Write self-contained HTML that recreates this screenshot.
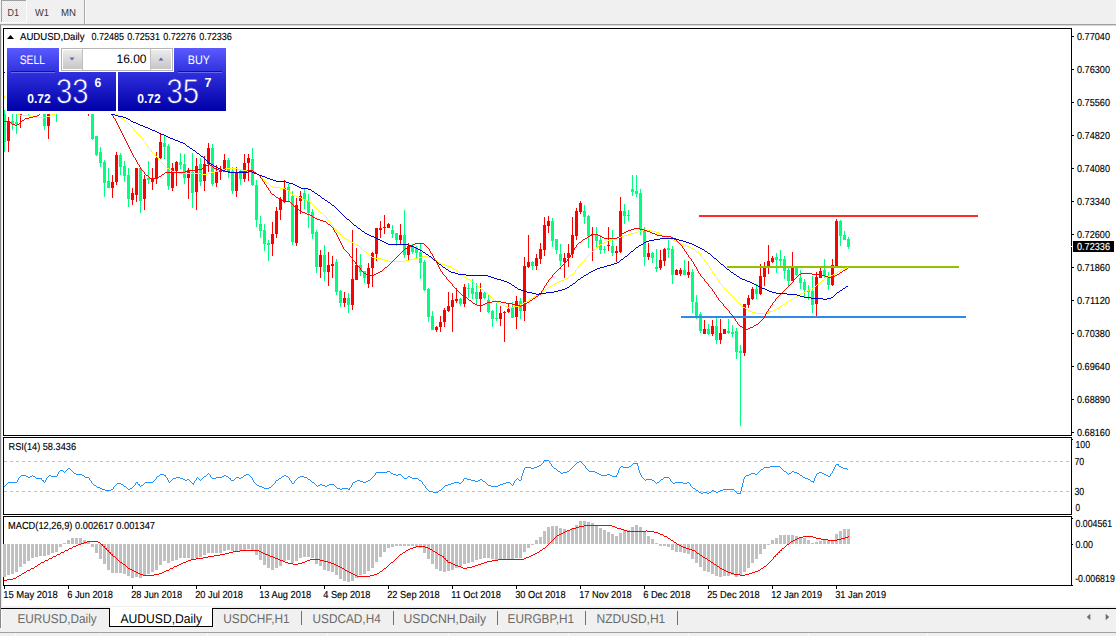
<!DOCTYPE html><html><head><meta charset="utf-8"><title>AUDUSD,Daily</title>
<style>html,body{margin:0;padding:0;background:#fff;overflow:hidden}svg{display:block}text{font-family:"Liberation Sans",sans-serif;text-rendering:geometricPrecision}</style></head><body>
<svg width="1116" height="636" viewBox="0 0 1116 636">
<defs><linearGradient id="bg" gradientUnits="userSpaceOnUse" x1="0" y1="48" x2="0" y2="111"><stop offset="0" stop-color="#5a5aff"/><stop offset="0.45" stop-color="#2a2ad8"/><stop offset="1" stop-color="#0000a8"/></linearGradient><linearGradient id="sp2" gradientUnits="userSpaceOnUse" x1="0" y1="50" x2="0" y2="69"><stop offset="0" stop-color="#ececec"/><stop offset="1" stop-color="#c6c6c6"/></linearGradient>
<linearGradient id="sp" x1="0" y1="0" x2="0" y2="1"><stop offset="0" stop-color="#f0f0f0"/><stop offset="0.5" stop-color="#dcdcdc"/><stop offset="1" stop-color="#c8c8c8"/></linearGradient>
<pattern id="dots" width="2" height="2" patternUnits="userSpaceOnUse"><rect width="2" height="2" fill="#f8f8f8"/><rect width="1" height="1" fill="#e6e6e6"/><rect x="1" y="1" width="1" height="1" fill="#e6e6e6"/></pattern>
<clipPath id="cm"><rect x="4" y="29" width="1067" height="406"/></clipPath></defs>
<rect width="1116" height="636" fill="#fff"/>
<g shape-rendering="crispEdges">
<rect x="0" y="0" width="1116" height="24" fill="#f0f0f0"/>
<rect x="0" y="24" width="1116" height="1" fill="#a0a0a0"/>
<rect x="0" y="25" width="1116" height="1" fill="#d8d8d8"/>
<rect x="1" y="0" width="25" height="22" fill="url(#dots)"/>
<rect x="1" y="0" width="1" height="22" fill="#a0a0a0"/><rect x="1" y="0" width="25" height="1" fill="#a0a0a0"/><rect x="26" y="0" width="1" height="23" fill="#fbfbfb"/><rect x="1" y="22" width="26" height="1" fill="#fbfbfb"/>
<rect x="84" y="0" width="1" height="24" fill="#a8a8a8"/><rect x="85" y="0" width="1" height="24" fill="#fafafa"/>
<rect x="0" y="25" width="1" height="581" fill="#888"/>
<rect x="1" y="25" width="1" height="581" fill="#e8e8e8"/>
</g>
<text x="7.5" y="15.7" font-size="10.17" fill="#383838" text-anchor="start" textLength="11.5" lengthAdjust="spacingAndGlyphs">D1</text>
<text x="35" y="15.7" font-size="10.17" fill="#383838" text-anchor="start" textLength="14" lengthAdjust="spacingAndGlyphs">W1</text>
<text x="61" y="15.7" font-size="10.17" fill="#383838" text-anchor="start" textLength="15" lengthAdjust="spacingAndGlyphs">MN</text>
<g clip-path="url(#cm)" shape-rendering="crispEdges">
<rect x="4" y="110" width="1" height="42" fill="#00ff7f"/>
<rect x="3" y="110" width="3" height="32" fill="#00ff7f"/>
<rect x="8" y="117" width="1" height="35" fill="#ff0000"/>
<rect x="7" y="121" width="3" height="20" fill="#ff0000"/>
<rect x="12" y="100" width="1" height="30" fill="#00ff7f"/>
<rect x="11" y="121" width="3" height="3" fill="#00ff7f"/>
<rect x="16" y="100" width="1" height="34" fill="#00ff7f"/>
<rect x="15" y="122" width="3" height="2" fill="#00ff7f"/>
<rect x="20" y="100" width="1" height="28" fill="#ff0000"/>
<rect x="19" y="113" width="3" height="2" fill="#ff0000"/>
<rect x="28" y="100" width="1" height="16" fill="#00ff7f"/>
<rect x="27" y="100" width="3" height="1" fill="#00ff7f"/>
<rect x="44" y="100" width="1" height="30" fill="#00ff7f"/>
<rect x="43" y="100" width="3" height="26" fill="#00ff7f"/>
<rect x="48" y="100" width="1" height="39" fill="#ff0000"/>
<rect x="47" y="100" width="3" height="26" fill="#ff0000"/>
<rect x="56" y="100" width="1" height="22" fill="#00ff7f"/>
<rect x="55" y="100" width="3" height="1" fill="#00ff7f"/>
<rect x="88" y="100" width="1" height="16" fill="#ff0000"/>
<rect x="87" y="100" width="3" height="1" fill="#ff0000"/>
<rect x="92" y="100" width="1" height="40" fill="#00ff7f"/>
<rect x="91" y="100" width="3" height="39" fill="#00ff7f"/>
<rect x="96" y="136" width="1" height="20" fill="#00ff7f"/>
<rect x="95" y="136" width="3" height="19" fill="#00ff7f"/>
<rect x="100" y="147" width="1" height="20" fill="#00ff7f"/>
<rect x="99" y="152" width="3" height="11" fill="#00ff7f"/>
<rect x="104" y="160" width="1" height="37" fill="#00ff7f"/>
<rect x="103" y="162" width="3" height="21" fill="#00ff7f"/>
<rect x="108" y="168" width="1" height="20" fill="#00ff7f"/>
<rect x="107" y="181" width="3" height="7" fill="#00ff7f"/>
<rect x="112" y="175" width="1" height="23" fill="#ff0000"/>
<rect x="111" y="182" width="3" height="6" fill="#ff0000"/>
<rect x="116" y="152" width="1" height="33" fill="#ff0000"/>
<rect x="115" y="155" width="3" height="27" fill="#ff0000"/>
<rect x="120" y="153" width="1" height="22" fill="#00ff7f"/>
<rect x="119" y="155" width="3" height="12" fill="#00ff7f"/>
<rect x="124" y="161" width="1" height="21" fill="#00ff7f"/>
<rect x="123" y="166" width="3" height="10" fill="#00ff7f"/>
<rect x="128" y="168" width="1" height="39" fill="#00ff7f"/>
<rect x="127" y="175" width="3" height="24" fill="#00ff7f"/>
<rect x="132" y="188" width="1" height="17" fill="#ff0000"/>
<rect x="131" y="193" width="3" height="7" fill="#ff0000"/>
<rect x="136" y="168" width="1" height="34" fill="#ff0000"/>
<rect x="135" y="168" width="3" height="27" fill="#ff0000"/>
<rect x="140" y="167" width="1" height="46" fill="#00ff7f"/>
<rect x="139" y="168" width="3" height="33" fill="#00ff7f"/>
<rect x="144" y="175" width="1" height="35" fill="#ff0000"/>
<rect x="143" y="179" width="3" height="20" fill="#ff0000"/>
<rect x="148" y="161" width="1" height="23" fill="#00ff7f"/>
<rect x="147" y="178" width="3" height="2" fill="#00ff7f"/>
<rect x="152" y="168" width="1" height="22" fill="#ff0000"/>
<rect x="151" y="178" width="3" height="4" fill="#ff0000"/>
<rect x="156" y="152" width="1" height="32" fill="#ff0000"/>
<rect x="155" y="158" width="3" height="21" fill="#ff0000"/>
<rect x="160" y="134" width="1" height="25" fill="#ff0000"/>
<rect x="159" y="142" width="3" height="16" fill="#ff0000"/>
<rect x="164" y="135" width="1" height="24" fill="#00ff7f"/>
<rect x="163" y="143" width="3" height="4" fill="#00ff7f"/>
<rect x="168" y="144" width="1" height="46" fill="#00ff7f"/>
<rect x="167" y="146" width="3" height="40" fill="#00ff7f"/>
<rect x="172" y="163" width="1" height="28" fill="#ff0000"/>
<rect x="171" y="168" width="3" height="20" fill="#ff0000"/>
<rect x="176" y="161" width="1" height="25" fill="#ff0000"/>
<rect x="175" y="162" width="3" height="9" fill="#ff0000"/>
<rect x="180" y="153" width="1" height="16" fill="#00ff7f"/>
<rect x="179" y="162" width="3" height="3" fill="#00ff7f"/>
<rect x="184" y="154" width="1" height="30" fill="#00ff7f"/>
<rect x="183" y="164" width="3" height="14" fill="#00ff7f"/>
<rect x="188" y="168" width="1" height="31" fill="#ff0000"/>
<rect x="187" y="170" width="3" height="8" fill="#ff0000"/>
<rect x="192" y="153" width="1" height="55" fill="#00ff7f"/>
<rect x="191" y="172" width="3" height="21" fill="#00ff7f"/>
<rect x="196" y="158" width="1" height="52" fill="#ff0000"/>
<rect x="195" y="166" width="3" height="26" fill="#ff0000"/>
<rect x="200" y="158" width="1" height="28" fill="#00ff7f"/>
<rect x="199" y="164" width="3" height="18" fill="#00ff7f"/>
<rect x="204" y="156" width="1" height="35" fill="#ff0000"/>
<rect x="203" y="164" width="3" height="17" fill="#ff0000"/>
<rect x="208" y="143" width="1" height="29" fill="#ff0000"/>
<rect x="207" y="148" width="3" height="16" fill="#ff0000"/>
<rect x="212" y="144" width="1" height="42" fill="#00ff7f"/>
<rect x="211" y="148" width="3" height="36" fill="#00ff7f"/>
<rect x="216" y="165" width="1" height="22" fill="#ff0000"/>
<rect x="215" y="171" width="3" height="12" fill="#ff0000"/>
<rect x="220" y="166" width="1" height="14" fill="#ff0000"/>
<rect x="219" y="171" width="3" height="1" fill="#ff0000"/>
<rect x="224" y="154" width="1" height="18" fill="#ff0000"/>
<rect x="223" y="160" width="3" height="10" fill="#ff0000"/>
<rect x="228" y="158" width="1" height="20" fill="#00ff7f"/>
<rect x="227" y="160" width="3" height="12" fill="#00ff7f"/>
<rect x="232" y="167" width="1" height="27" fill="#00ff7f"/>
<rect x="231" y="171" width="3" height="20" fill="#00ff7f"/>
<rect x="236" y="167" width="1" height="30" fill="#ff0000"/>
<rect x="235" y="172" width="3" height="19" fill="#ff0000"/>
<rect x="240" y="170" width="1" height="15" fill="#00ff7f"/>
<rect x="239" y="173" width="3" height="6" fill="#00ff7f"/>
<rect x="244" y="154" width="1" height="28" fill="#ff0000"/>
<rect x="243" y="163" width="3" height="16" fill="#ff0000"/>
<rect x="248" y="154" width="1" height="27" fill="#ff0000"/>
<rect x="247" y="158" width="3" height="5" fill="#ff0000"/>
<rect x="252" y="148" width="1" height="38" fill="#00ff7f"/>
<rect x="251" y="159" width="3" height="26" fill="#00ff7f"/>
<rect x="256" y="180" width="1" height="47" fill="#00ff7f"/>
<rect x="255" y="185" width="3" height="35" fill="#00ff7f"/>
<rect x="260" y="216" width="1" height="22" fill="#00ff7f"/>
<rect x="259" y="224" width="3" height="7" fill="#00ff7f"/>
<rect x="264" y="224" width="1" height="27" fill="#00ff7f"/>
<rect x="263" y="230" width="3" height="14" fill="#00ff7f"/>
<rect x="268" y="240" width="1" height="21" fill="#00ff7f"/>
<rect x="267" y="243" width="3" height="2" fill="#00ff7f"/>
<rect x="272" y="222" width="1" height="34" fill="#ff0000"/>
<rect x="271" y="234" width="3" height="10" fill="#ff0000"/>
<rect x="276" y="207" width="1" height="31" fill="#ff0000"/>
<rect x="275" y="211" width="3" height="23" fill="#ff0000"/>
<rect x="280" y="197" width="1" height="23" fill="#ff0000"/>
<rect x="279" y="199" width="3" height="11" fill="#ff0000"/>
<rect x="284" y="180" width="1" height="23" fill="#ff0000"/>
<rect x="283" y="188" width="3" height="13" fill="#ff0000"/>
<rect x="288" y="184" width="1" height="17" fill="#00ff7f"/>
<rect x="287" y="187" width="3" height="4" fill="#00ff7f"/>
<rect x="292" y="191" width="1" height="54" fill="#00ff7f"/>
<rect x="291" y="196" width="3" height="46" fill="#00ff7f"/>
<rect x="296" y="198" width="1" height="48" fill="#ff0000"/>
<rect x="295" y="205" width="3" height="38" fill="#ff0000"/>
<rect x="300" y="191" width="1" height="23" fill="#ff0000"/>
<rect x="299" y="196" width="3" height="5" fill="#ff0000"/>
<rect x="304" y="189" width="1" height="20" fill="#00ff7f"/>
<rect x="303" y="193" width="3" height="7" fill="#00ff7f"/>
<rect x="308" y="194" width="1" height="34" fill="#00ff7f"/>
<rect x="307" y="201" width="3" height="12" fill="#00ff7f"/>
<rect x="312" y="209" width="1" height="30" fill="#00ff7f"/>
<rect x="311" y="212" width="3" height="22" fill="#00ff7f"/>
<rect x="316" y="230" width="1" height="43" fill="#00ff7f"/>
<rect x="315" y="232" width="3" height="35" fill="#00ff7f"/>
<rect x="320" y="250" width="1" height="28" fill="#ff0000"/>
<rect x="319" y="255" width="3" height="12" fill="#ff0000"/>
<rect x="324" y="245" width="1" height="36" fill="#00ff7f"/>
<rect x="323" y="255" width="3" height="17" fill="#00ff7f"/>
<rect x="328" y="252" width="1" height="34" fill="#ff0000"/>
<rect x="327" y="265" width="3" height="7" fill="#ff0000"/>
<rect x="332" y="256" width="1" height="22" fill="#ff0000"/>
<rect x="331" y="264" width="3" height="2" fill="#ff0000"/>
<rect x="336" y="259" width="1" height="36" fill="#00ff7f"/>
<rect x="335" y="262" width="3" height="30" fill="#00ff7f"/>
<rect x="340" y="290" width="1" height="17" fill="#00ff7f"/>
<rect x="339" y="291" width="3" height="12" fill="#00ff7f"/>
<rect x="344" y="292" width="1" height="15" fill="#ff0000"/>
<rect x="343" y="298" width="3" height="5" fill="#ff0000"/>
<rect x="348" y="293" width="1" height="20" fill="#00ff7f"/>
<rect x="347" y="298" width="3" height="7" fill="#00ff7f"/>
<rect x="352" y="230" width="1" height="80" fill="#ff0000"/>
<rect x="351" y="279" width="3" height="26" fill="#ff0000"/>
<rect x="356" y="248" width="1" height="32" fill="#ff0000"/>
<rect x="355" y="265" width="3" height="15" fill="#ff0000"/>
<rect x="360" y="254" width="1" height="22" fill="#00ff7f"/>
<rect x="359" y="265" width="3" height="7" fill="#00ff7f"/>
<rect x="364" y="271" width="1" height="12" fill="#00ff7f"/>
<rect x="363" y="271" width="3" height="7" fill="#00ff7f"/>
<rect x="368" y="263" width="1" height="25" fill="#ff0000"/>
<rect x="367" y="268" width="3" height="16" fill="#ff0000"/>
<rect x="372" y="252" width="1" height="35" fill="#ff0000"/>
<rect x="371" y="253" width="3" height="15" fill="#ff0000"/>
<rect x="376" y="228" width="1" height="33" fill="#ff0000"/>
<rect x="375" y="228" width="3" height="26" fill="#ff0000"/>
<rect x="380" y="221" width="1" height="17" fill="#ff0000"/>
<rect x="379" y="228" width="3" height="2" fill="#ff0000"/>
<rect x="384" y="215" width="1" height="19" fill="#ff0000"/>
<rect x="383" y="227" width="3" height="1" fill="#ff0000"/>
<rect x="388" y="223" width="1" height="5" fill="#ff0000"/>
<rect x="387" y="224" width="3" height="4" fill="#ff0000"/>
<rect x="392" y="225" width="1" height="13" fill="#00ff7f"/>
<rect x="391" y="230" width="3" height="4" fill="#00ff7f"/>
<rect x="396" y="233" width="1" height="13" fill="#00ff7f"/>
<rect x="395" y="233" width="3" height="7" fill="#00ff7f"/>
<rect x="400" y="224" width="1" height="20" fill="#ff0000"/>
<rect x="399" y="235" width="3" height="5" fill="#ff0000"/>
<rect x="404" y="210" width="1" height="48" fill="#00ff7f"/>
<rect x="403" y="235" width="3" height="20" fill="#00ff7f"/>
<rect x="408" y="243" width="1" height="18" fill="#ff0000"/>
<rect x="407" y="246" width="3" height="9" fill="#ff0000"/>
<rect x="412" y="244" width="1" height="10" fill="#00ff7f"/>
<rect x="411" y="247" width="3" height="5" fill="#00ff7f"/>
<rect x="416" y="246" width="1" height="12" fill="#00ff7f"/>
<rect x="415" y="248" width="3" height="5" fill="#00ff7f"/>
<rect x="420" y="244" width="1" height="35" fill="#00ff7f"/>
<rect x="419" y="252" width="3" height="11" fill="#00ff7f"/>
<rect x="424" y="260" width="1" height="31" fill="#00ff7f"/>
<rect x="423" y="262" width="3" height="28" fill="#00ff7f"/>
<rect x="428" y="288" width="1" height="34" fill="#00ff7f"/>
<rect x="427" y="289" width="3" height="28" fill="#00ff7f"/>
<rect x="432" y="311" width="1" height="19" fill="#00ff7f"/>
<rect x="431" y="316" width="3" height="14" fill="#00ff7f"/>
<rect x="436" y="326" width="1" height="6" fill="#ff0000"/>
<rect x="435" y="327" width="3" height="3" fill="#ff0000"/>
<rect x="440" y="316" width="1" height="16" fill="#ff0000"/>
<rect x="439" y="322" width="3" height="5" fill="#ff0000"/>
<rect x="444" y="308" width="1" height="19" fill="#ff0000"/>
<rect x="443" y="310" width="3" height="12" fill="#ff0000"/>
<rect x="448" y="292" width="1" height="20" fill="#ff0000"/>
<rect x="447" y="306" width="3" height="5" fill="#ff0000"/>
<rect x="452" y="293" width="1" height="39" fill="#ff0000"/>
<rect x="451" y="300" width="3" height="7" fill="#ff0000"/>
<rect x="456" y="288" width="1" height="15" fill="#ff0000"/>
<rect x="455" y="299" width="3" height="2" fill="#ff0000"/>
<rect x="460" y="298" width="1" height="8" fill="#00ff7f"/>
<rect x="459" y="299" width="3" height="5" fill="#00ff7f"/>
<rect x="464" y="284" width="1" height="23" fill="#ff0000"/>
<rect x="463" y="287" width="3" height="17" fill="#ff0000"/>
<rect x="468" y="283" width="1" height="15" fill="#00ff7f"/>
<rect x="467" y="288" width="3" height="1" fill="#00ff7f"/>
<rect x="472" y="279" width="1" height="20" fill="#00ff7f"/>
<rect x="471" y="288" width="3" height="6" fill="#00ff7f"/>
<rect x="476" y="283" width="1" height="22" fill="#00ff7f"/>
<rect x="475" y="292" width="3" height="7" fill="#00ff7f"/>
<rect x="480" y="283" width="1" height="29" fill="#ff0000"/>
<rect x="479" y="292" width="3" height="7" fill="#ff0000"/>
<rect x="484" y="292" width="1" height="7" fill="#00ff7f"/>
<rect x="483" y="293" width="3" height="5" fill="#00ff7f"/>
<rect x="488" y="295" width="1" height="18" fill="#00ff7f"/>
<rect x="487" y="300" width="3" height="12" fill="#00ff7f"/>
<rect x="492" y="310" width="1" height="17" fill="#00ff7f"/>
<rect x="491" y="311" width="3" height="8" fill="#00ff7f"/>
<rect x="496" y="303" width="1" height="18" fill="#00ff7f"/>
<rect x="495" y="318" width="3" height="1" fill="#00ff7f"/>
<rect x="500" y="306" width="1" height="20" fill="#ff0000"/>
<rect x="499" y="313" width="3" height="6" fill="#ff0000"/>
<rect x="504" y="311" width="1" height="31" fill="#ff0000"/>
<rect x="503" y="312" width="3" height="1" fill="#ff0000"/>
<rect x="508" y="303" width="1" height="10" fill="#ff0000"/>
<rect x="507" y="309" width="3" height="3" fill="#ff0000"/>
<rect x="512" y="302" width="1" height="16" fill="#00ff7f"/>
<rect x="511" y="307" width="3" height="11" fill="#00ff7f"/>
<rect x="516" y="296" width="1" height="33" fill="#ff0000"/>
<rect x="515" y="301" width="3" height="16" fill="#ff0000"/>
<rect x="520" y="298" width="1" height="21" fill="#00ff7f"/>
<rect x="519" y="301" width="3" height="10" fill="#00ff7f"/>
<rect x="524" y="257" width="1" height="64" fill="#ff0000"/>
<rect x="523" y="266" width="3" height="45" fill="#ff0000"/>
<rect x="528" y="235" width="1" height="33" fill="#ff0000"/>
<rect x="527" y="262" width="3" height="5" fill="#ff0000"/>
<rect x="532" y="261" width="1" height="9" fill="#00ff7f"/>
<rect x="531" y="262" width="3" height="4" fill="#00ff7f"/>
<rect x="536" y="254" width="1" height="16" fill="#ff0000"/>
<rect x="535" y="258" width="3" height="8" fill="#ff0000"/>
<rect x="540" y="243" width="1" height="21" fill="#ff0000"/>
<rect x="539" y="249" width="3" height="10" fill="#ff0000"/>
<rect x="544" y="217" width="1" height="39" fill="#ff0000"/>
<rect x="543" y="225" width="3" height="25" fill="#ff0000"/>
<rect x="548" y="216" width="1" height="17" fill="#ff0000"/>
<rect x="547" y="221" width="3" height="5" fill="#ff0000"/>
<rect x="552" y="218" width="1" height="29" fill="#00ff7f"/>
<rect x="551" y="221" width="3" height="20" fill="#00ff7f"/>
<rect x="556" y="239" width="1" height="15" fill="#00ff7f"/>
<rect x="555" y="239" width="3" height="11" fill="#00ff7f"/>
<rect x="560" y="244" width="1" height="22" fill="#00ff7f"/>
<rect x="559" y="254" width="3" height="7" fill="#00ff7f"/>
<rect x="564" y="253" width="1" height="25" fill="#ff0000"/>
<rect x="563" y="258" width="3" height="4" fill="#ff0000"/>
<rect x="568" y="244" width="1" height="23" fill="#ff0000"/>
<rect x="567" y="253" width="3" height="5" fill="#ff0000"/>
<rect x="572" y="217" width="1" height="41" fill="#ff0000"/>
<rect x="571" y="235" width="3" height="19" fill="#ff0000"/>
<rect x="576" y="208" width="1" height="32" fill="#ff0000"/>
<rect x="575" y="211" width="3" height="25" fill="#ff0000"/>
<rect x="580" y="201" width="1" height="13" fill="#ff0000"/>
<rect x="579" y="203" width="3" height="9" fill="#ff0000"/>
<rect x="584" y="205" width="1" height="19" fill="#00ff7f"/>
<rect x="583" y="211" width="3" height="6" fill="#00ff7f"/>
<rect x="588" y="215" width="1" height="33" fill="#00ff7f"/>
<rect x="587" y="216" width="3" height="20" fill="#00ff7f"/>
<rect x="592" y="227" width="1" height="34" fill="#ff0000"/>
<rect x="591" y="234" width="3" height="1" fill="#ff0000"/>
<rect x="596" y="227" width="1" height="20" fill="#00ff7f"/>
<rect x="595" y="234" width="3" height="7" fill="#00ff7f"/>
<rect x="600" y="235" width="1" height="19" fill="#00ff7f"/>
<rect x="599" y="240" width="3" height="10" fill="#00ff7f"/>
<rect x="604" y="246" width="1" height="7" fill="#00ff7f"/>
<rect x="603" y="249" width="3" height="1" fill="#00ff7f"/>
<rect x="608" y="227" width="1" height="24" fill="#ff0000"/>
<rect x="607" y="245" width="3" height="1" fill="#ff0000"/>
<rect x="612" y="230" width="1" height="26" fill="#00ff7f"/>
<rect x="611" y="246" width="3" height="7" fill="#00ff7f"/>
<rect x="616" y="246" width="1" height="16" fill="#ff0000"/>
<rect x="615" y="251" width="3" height="2" fill="#ff0000"/>
<rect x="620" y="197" width="1" height="56" fill="#ff0000"/>
<rect x="619" y="211" width="3" height="41" fill="#ff0000"/>
<rect x="624" y="204" width="1" height="20" fill="#00ff7f"/>
<rect x="623" y="211" width="3" height="5" fill="#00ff7f"/>
<rect x="628" y="210" width="1" height="11" fill="#00ff7f"/>
<rect x="627" y="215" width="3" height="1" fill="#00ff7f"/>
<rect x="632" y="175" width="1" height="21" fill="#00ff7f"/>
<rect x="631" y="189" width="3" height="3" fill="#00ff7f"/>
<rect x="636" y="175" width="1" height="22" fill="#00ff7f"/>
<rect x="635" y="191" width="3" height="3" fill="#00ff7f"/>
<rect x="640" y="189" width="1" height="46" fill="#00ff7f"/>
<rect x="639" y="193" width="3" height="37" fill="#00ff7f"/>
<rect x="644" y="227" width="1" height="39" fill="#00ff7f"/>
<rect x="643" y="231" width="3" height="26" fill="#00ff7f"/>
<rect x="648" y="243" width="1" height="17" fill="#ff0000"/>
<rect x="647" y="253" width="3" height="4" fill="#ff0000"/>
<rect x="652" y="252" width="1" height="11" fill="#00ff7f"/>
<rect x="651" y="253" width="3" height="5" fill="#00ff7f"/>
<rect x="656" y="249" width="1" height="23" fill="#00ff7f"/>
<rect x="655" y="267" width="3" height="2" fill="#00ff7f"/>
<rect x="660" y="250" width="1" height="20" fill="#ff0000"/>
<rect x="659" y="260" width="3" height="8" fill="#ff0000"/>
<rect x="664" y="248" width="1" height="18" fill="#ff0000"/>
<rect x="663" y="249" width="3" height="12" fill="#ff0000"/>
<rect x="668" y="240" width="1" height="18" fill="#00ff7f"/>
<rect x="667" y="248" width="3" height="2" fill="#00ff7f"/>
<rect x="672" y="246" width="1" height="38" fill="#00ff7f"/>
<rect x="671" y="249" width="3" height="26" fill="#00ff7f"/>
<rect x="676" y="269" width="1" height="6" fill="#ff0000"/>
<rect x="675" y="270" width="3" height="5" fill="#ff0000"/>
<rect x="680" y="268" width="1" height="8" fill="#ff0000"/>
<rect x="679" y="270" width="3" height="4" fill="#ff0000"/>
<rect x="684" y="260" width="1" height="15" fill="#00ff7f"/>
<rect x="683" y="270" width="3" height="5" fill="#00ff7f"/>
<rect x="688" y="261" width="1" height="17" fill="#ff0000"/>
<rect x="687" y="272" width="3" height="3" fill="#ff0000"/>
<rect x="692" y="269" width="1" height="44" fill="#00ff7f"/>
<rect x="691" y="272" width="3" height="30" fill="#00ff7f"/>
<rect x="696" y="295" width="1" height="24" fill="#00ff7f"/>
<rect x="695" y="302" width="3" height="14" fill="#00ff7f"/>
<rect x="700" y="312" width="1" height="21" fill="#00ff7f"/>
<rect x="699" y="314" width="3" height="17" fill="#00ff7f"/>
<rect x="704" y="320" width="1" height="14" fill="#ff0000"/>
<rect x="703" y="329" width="3" height="5" fill="#ff0000"/>
<rect x="708" y="324" width="1" height="11" fill="#00ff7f"/>
<rect x="707" y="329" width="3" height="5" fill="#00ff7f"/>
<rect x="712" y="320" width="1" height="16" fill="#ff0000"/>
<rect x="711" y="326" width="3" height="8" fill="#ff0000"/>
<rect x="716" y="318" width="1" height="26" fill="#00ff7f"/>
<rect x="715" y="326" width="3" height="14" fill="#00ff7f"/>
<rect x="720" y="319" width="1" height="25" fill="#ff0000"/>
<rect x="719" y="333" width="3" height="7" fill="#ff0000"/>
<rect x="724" y="329" width="1" height="5" fill="#ff0000"/>
<rect x="723" y="329" width="3" height="5" fill="#ff0000"/>
<rect x="728" y="319" width="1" height="15" fill="#00ff7f"/>
<rect x="727" y="331" width="3" height="2" fill="#00ff7f"/>
<rect x="732" y="325" width="1" height="12" fill="#00ff7f"/>
<rect x="731" y="332" width="3" height="2" fill="#00ff7f"/>
<rect x="736" y="328" width="1" height="31" fill="#00ff7f"/>
<rect x="735" y="331" width="3" height="21" fill="#00ff7f"/>
<rect x="740" y="345" width="1" height="81" fill="#00ff7f"/>
<rect x="739" y="351" width="3" height="2" fill="#00ff7f"/>
<rect x="744" y="304" width="1" height="52" fill="#ff0000"/>
<rect x="743" y="304" width="3" height="49" fill="#ff0000"/>
<rect x="748" y="295" width="1" height="13" fill="#ff0000"/>
<rect x="747" y="298" width="3" height="7" fill="#ff0000"/>
<rect x="752" y="287" width="1" height="13" fill="#ff0000"/>
<rect x="751" y="289" width="3" height="10" fill="#ff0000"/>
<rect x="756" y="284" width="1" height="15" fill="#00ff7f"/>
<rect x="755" y="289" width="3" height="5" fill="#00ff7f"/>
<rect x="760" y="264" width="1" height="31" fill="#ff0000"/>
<rect x="759" y="276" width="3" height="18" fill="#ff0000"/>
<rect x="764" y="262" width="1" height="24" fill="#ff0000"/>
<rect x="763" y="266" width="3" height="11" fill="#ff0000"/>
<rect x="768" y="245" width="1" height="29" fill="#ff0000"/>
<rect x="767" y="261" width="3" height="6" fill="#ff0000"/>
<rect x="772" y="256" width="1" height="7" fill="#ff0000"/>
<rect x="771" y="258" width="3" height="4" fill="#ff0000"/>
<rect x="776" y="253" width="1" height="20" fill="#00ff7f"/>
<rect x="775" y="257" width="3" height="3" fill="#00ff7f"/>
<rect x="780" y="250" width="1" height="16" fill="#00ff7f"/>
<rect x="779" y="259" width="3" height="2" fill="#00ff7f"/>
<rect x="784" y="256" width="1" height="23" fill="#00ff7f"/>
<rect x="783" y="259" width="3" height="12" fill="#00ff7f"/>
<rect x="788" y="268" width="1" height="18" fill="#00ff7f"/>
<rect x="787" y="270" width="3" height="11" fill="#00ff7f"/>
<rect x="792" y="252" width="1" height="29" fill="#ff0000"/>
<rect x="791" y="268" width="3" height="13" fill="#ff0000"/>
<rect x="796" y="267" width="1" height="9" fill="#00ff7f"/>
<rect x="795" y="268" width="3" height="7" fill="#00ff7f"/>
<rect x="800" y="270" width="1" height="19" fill="#00ff7f"/>
<rect x="799" y="278" width="3" height="5" fill="#00ff7f"/>
<rect x="804" y="279" width="1" height="18" fill="#00ff7f"/>
<rect x="803" y="282" width="3" height="8" fill="#00ff7f"/>
<rect x="808" y="285" width="1" height="15" fill="#00ff7f"/>
<rect x="807" y="290" width="3" height="2" fill="#00ff7f"/>
<rect x="812" y="276" width="1" height="37" fill="#00ff7f"/>
<rect x="811" y="291" width="3" height="14" fill="#00ff7f"/>
<rect x="816" y="272" width="1" height="44" fill="#ff0000"/>
<rect x="815" y="277" width="3" height="27" fill="#ff0000"/>
<rect x="820" y="268" width="1" height="10" fill="#ff0000"/>
<rect x="819" y="271" width="3" height="7" fill="#ff0000"/>
<rect x="824" y="259" width="1" height="19" fill="#00ff7f"/>
<rect x="823" y="270" width="3" height="6" fill="#00ff7f"/>
<rect x="828" y="272" width="1" height="18" fill="#00ff7f"/>
<rect x="827" y="277" width="3" height="8" fill="#00ff7f"/>
<rect x="832" y="259" width="1" height="27" fill="#ff0000"/>
<rect x="831" y="265" width="3" height="20" fill="#ff0000"/>
<rect x="836" y="219" width="1" height="47" fill="#ff0000"/>
<rect x="835" y="221" width="3" height="45" fill="#ff0000"/>
<rect x="840" y="220" width="1" height="26" fill="#00ff7f"/>
<rect x="839" y="221" width="3" height="15" fill="#00ff7f"/>
<rect x="844" y="231" width="1" height="9" fill="#00ff7f"/>
<rect x="843" y="235" width="3" height="5" fill="#00ff7f"/>
<rect x="848" y="237" width="1" height="12" fill="#00ff7f"/>
<rect x="847" y="239" width="3" height="8" fill="#00ff7f"/>
<rect x="699" y="215" width="279" height="2" fill="#ff2a2a"/>
<rect x="727" y="266" width="232" height="2" fill="#94c000"/>
<rect x="681" y="316" width="285" height="2" fill="#2e8ae6"/>
<path d="M4.5 96V98M5.5 98V99M6.5 99V100M7.5 100V102M8.5 102V103M9.5 103V104M10.5 104V105M11.5 105V107M12.5 107V108M13.5 108V109M14.5 109V110M15.5 110V112M16.5 112V113M17.5 113V114M18.5 114V115M19.5 114V115M20.5 115V116M21.5 115V116M22.5 115V116M23.5 115V116M24.5 115V116M25.5 115V116M26.5 115V116M27.5 115V116M28.5 115V116M29.5 115V116M30.5 116V117M31.5 116V117M32.5 116V117M33.5 116V117M34.5 116V117M35.5 116V117M36.5 116V117M37.5 116V117M38.5 117V118M39.5 117V118M40.5 117V118M41.5 117V118M42.5 117V118M43.5 117V118M44.5 117V118M45.5 117V118M46.5 117V118M47.5 116V117M48.5 116V117M49.5 116V117M50.5 115V116M51.5 115V116M52.5 114V115M53.5 114V115M54.5 114V115M55.5 113V114M56.5 113V114M57.5 112V113" fill="none" stroke="#ffff00" stroke-width="1"/>
<path d="M116.5 114V115M117.5 115V116M118.5 115V116M119.5 116V117M120.5 117V118M121.5 118V119M122.5 118V119M123.5 119V120M124.5 120V121M125.5 120V121M126.5 121V122M127.5 122V123M128.5 123V124M129.5 124V125M130.5 125V126M131.5 126V127M132.5 127V128M133.5 128V130M134.5 130V131M135.5 131V132M136.5 132V133M137.5 133V134M138.5 134V135M139.5 135V136M140.5 136V137M141.5 137V138M142.5 138V140M143.5 140V141M144.5 141V142M145.5 142V144M146.5 144V145M147.5 145V147M148.5 147V148M149.5 148V149M150.5 149V150M151.5 150V152M152.5 152V153M153.5 153V154M154.5 154V155M155.5 155V156M156.5 156V157M157.5 157V158M158.5 158V160M159.5 160V161M160.5 161V162M161.5 162V163M162.5 163V164M163.5 164V165M164.5 165V166M165.5 166V167M166.5 167V168M167.5 168V169M168.5 168V169M169.5 169V170M170.5 169V170M171.5 170V171M172.5 171V172M173.5 171V172M174.5 171V172M175.5 172V173M176.5 172V173M177.5 172V173M178.5 172V173M179.5 173V174M180.5 173V174M181.5 173V174M182.5 173V174M183.5 173V174M184.5 173V174M185.5 173V174M186.5 173V174M187.5 173V174M188.5 173V174M189.5 173V174M190.5 173V174M191.5 173V174M192.5 173V174M193.5 173V174M194.5 173V174M195.5 173V174M196.5 173V174M197.5 173V174M198.5 173V174M199.5 173V174M200.5 173V174M201.5 174V175M202.5 174V175M203.5 174V175M204.5 174V175M205.5 174V175M206.5 174V175M207.5 173V174M208.5 173V174M209.5 173V174M210.5 173V174M211.5 172V173M212.5 172V173M213.5 172V173M214.5 172V173M215.5 171V172M216.5 171V172M217.5 171V172M218.5 171V172M219.5 170V171M220.5 170V171M221.5 170V171M222.5 169V170M223.5 169V170M224.5 169V170M225.5 168V169M226.5 168V169M227.5 168V169M228.5 168V169M229.5 168V169M230.5 168V169M231.5 168V169M232.5 168V169M233.5 168V169M234.5 168V169M235.5 168V169M236.5 168V169M237.5 168V169M238.5 169V170M239.5 169V170M240.5 169V170M241.5 169V170M242.5 169V170M243.5 170V171M244.5 170V171M245.5 170V171M246.5 170V171M247.5 170V171M248.5 170V171M249.5 170V171M250.5 170V171M251.5 170V171M252.5 170V171M253.5 171V172M254.5 171V172M255.5 172V173M256.5 173V174M257.5 174V175M258.5 175V176M259.5 176V177M260.5 177V178M261.5 178V179M262.5 178V179M263.5 179V180M264.5 180V181M265.5 181V182M266.5 182V183M267.5 183V184M268.5 183V184M269.5 184V185M270.5 185V186M271.5 186V187M272.5 186V187M273.5 187V188M274.5 187V188M275.5 187V188M276.5 187V188M277.5 187V188M278.5 187V188M279.5 187V188M280.5 188V189M281.5 188V189M282.5 188V189M283.5 188V189M284.5 188V189M285.5 189V190M286.5 189V190M287.5 190V191M288.5 190V191M289.5 191V192M290.5 192V193M291.5 193V194M292.5 194V195M293.5 195V196M294.5 195V196M295.5 195V196M296.5 196V197M297.5 196V197M298.5 197V198M299.5 197V198M300.5 197V198M301.5 198V199M302.5 198V199M303.5 199V200M304.5 199V200M305.5 199V200M306.5 200V201M307.5 200V201M308.5 201V202M309.5 201V202M310.5 202V203M311.5 203V204M312.5 204V205M313.5 205V206M314.5 206V207M315.5 207V208M316.5 208V209M317.5 209V210M318.5 210V211M319.5 211V212M320.5 212V213M321.5 212V213M322.5 213V214M323.5 214V215M324.5 215V216M325.5 216V217M326.5 217V218M327.5 218V220M328.5 220V221M329.5 221V222M330.5 222V224M331.5 224V225M332.5 225V226M333.5 226V228M334.5 228V229M335.5 229V230M336.5 230V232M337.5 232V233M338.5 232V233M339.5 233V234M340.5 234V235M341.5 235V236M342.5 236V237M343.5 237V238M344.5 238V239M345.5 238V239M346.5 239V240M347.5 239V240M348.5 240V241M349.5 241V242M350.5 241V242M351.5 242V243M352.5 242V243M353.5 243V244M354.5 243V244M355.5 244V245M356.5 244V245M357.5 245V246M358.5 245V246M359.5 246V247M360.5 247V248M361.5 248V249M362.5 249V250M363.5 250V251M364.5 251V252M365.5 251V252M366.5 252V253M367.5 253V254M368.5 254V255M369.5 255V256M370.5 255V256M371.5 256V257M372.5 257V258M373.5 257V258M374.5 258V259M375.5 258V259M376.5 258V259M377.5 258V259M378.5 258V259M379.5 258V259M380.5 258V259M381.5 259V260M382.5 259V260M383.5 259V260M384.5 260V261M385.5 260V261M386.5 260V261M387.5 260V261M388.5 261V262M389.5 261V262M390.5 261V262M391.5 261V262M392.5 261V262M393.5 261V262M394.5 261V262M395.5 261V262M396.5 261V262M397.5 261V262M398.5 261V262M399.5 261V262M400.5 261V262M401.5 261V262M402.5 261V262M403.5 261V262M404.5 261V262M405.5 260V261M406.5 260V261M407.5 260V261M408.5 260V261M409.5 260V261M410.5 259V260M411.5 259V260M412.5 259V260M413.5 259V260M414.5 258V259M415.5 258V259M416.5 258V259M417.5 257V258M418.5 257V258M419.5 257V258M420.5 257V258M421.5 257V258M422.5 256V257M423.5 256V257M424.5 256V257M425.5 256V257M426.5 256V257M427.5 256V257M428.5 257V258M429.5 257V258M430.5 257V258M431.5 258V259M432.5 258V259M433.5 259V260M434.5 259V260M435.5 260V261M436.5 260V261M437.5 261V262M438.5 262V263M439.5 262V263M440.5 263V264M441.5 263V264M442.5 264V265M443.5 264V265M444.5 264V265M445.5 265V266M446.5 265V266M447.5 265V266M448.5 266V267M449.5 266V267M450.5 266V267M451.5 267V268M452.5 268V269M453.5 268V269M454.5 269V270M455.5 269V270M456.5 270V271M457.5 271V272M458.5 271V272M459.5 272V273M460.5 273V274M461.5 274V275M462.5 275V276M463.5 276V277M464.5 276V277M465.5 277V278M466.5 278V279M467.5 278V279M468.5 279V280M469.5 279V280M470.5 280V281M471.5 281V282M472.5 281V282M473.5 282V283M474.5 283V284M475.5 284V285M476.5 285V286M477.5 285V286M478.5 286V287M479.5 287V288M480.5 288V289M481.5 289V290M482.5 289V290M483.5 290V291M484.5 291V292M485.5 292V293M486.5 293V294M487.5 293V294M488.5 294V295M489.5 295V296M490.5 296V297M491.5 297V298M492.5 298V299M493.5 299V300M494.5 299V300M495.5 300V301M496.5 301V302M497.5 302V303M498.5 302V303M499.5 303V304M500.5 303V304M501.5 304V305M502.5 305V306M503.5 305V306M504.5 305V306M505.5 306V307M506.5 306V307M507.5 307V308M508.5 307V308M509.5 307V308M510.5 307V308M511.5 307V308M512.5 307V308M513.5 307V308M514.5 306V307M515.5 306V307M516.5 306V307M517.5 306V307M518.5 306V307M519.5 305V306M520.5 304V305M521.5 304V305M522.5 303V304M523.5 303V304M524.5 302V303M525.5 302V303M526.5 301V302M527.5 301V302M528.5 300V301M529.5 299V300M530.5 299V300M531.5 298V299M532.5 298V299M533.5 297V298M534.5 296V297M535.5 296V297M536.5 295V296M537.5 295V296M538.5 294V295M539.5 293V294M540.5 293V294M541.5 292V293M542.5 291V292M543.5 291V292M544.5 290V291M545.5 289V290M546.5 289V290M547.5 288V289M548.5 287V288M549.5 287V288M550.5 286V287M551.5 286V287M552.5 285V286M553.5 284V285M554.5 284V285M555.5 283V284M556.5 283V284M557.5 282V283M558.5 282V283M559.5 281V282M560.5 281V282M561.5 280V281M562.5 280V281M563.5 280V281M564.5 279V280M565.5 279V280M566.5 278V279M567.5 278V279M568.5 277V278M569.5 276V277M570.5 275V276M571.5 275V276M572.5 274V275M573.5 273V274M574.5 272V273M575.5 270V272M576.5 269V270M577.5 268V269M578.5 266V268M579.5 265V266M580.5 264V265M581.5 263V264M582.5 262V263M583.5 261V262M584.5 260V261M585.5 258V260M586.5 257V258M587.5 256V257M588.5 255V256M589.5 254V255M590.5 253V254M591.5 252V253M592.5 251V252M593.5 250V251M594.5 249V250M595.5 249V250M596.5 248V249M597.5 247V248M598.5 246V247M599.5 245V246M600.5 244V245M601.5 244V245M602.5 243V244M603.5 243V244M604.5 242V243M605.5 242V243M606.5 241V242M607.5 241V242M608.5 240V241M609.5 240V241M610.5 240V241M611.5 239V240M612.5 239V240M613.5 239V240M614.5 239V240M615.5 238V239M616.5 238V239M617.5 238V239M618.5 237V238M619.5 237V238M620.5 237V238M621.5 236V237M622.5 236V237M623.5 236V237M624.5 235V236M625.5 235V236M626.5 235V236M627.5 235V236M628.5 234V235M629.5 234V235M630.5 234V235M631.5 233V234M632.5 233V234M633.5 233V234M634.5 233V234M635.5 232V233M636.5 232V233M637.5 232V233M638.5 231V232M639.5 231V232M640.5 231V232M641.5 231V232M642.5 230V231M643.5 230V231M644.5 230V231M645.5 230V231M646.5 230V231M647.5 230V231M648.5 230V231M649.5 230V231M650.5 230V231M651.5 230V231M652.5 231V232M653.5 231V232M654.5 231V232M655.5 231V232M656.5 232V233M657.5 232V233M658.5 232V233M659.5 233V234M660.5 234V235M661.5 234V235M662.5 235V236M663.5 235V236M664.5 236V237M665.5 236V237M666.5 237V238M667.5 237V238M668.5 237V238M669.5 238V239M670.5 238V239M671.5 239V240M672.5 239V240M673.5 240V241M674.5 240V241M675.5 241V242M676.5 241V242M677.5 242V243M678.5 242V243M679.5 243V244M680.5 243V244M681.5 243V244M682.5 244V245M683.5 244V245M684.5 245V246M685.5 245V246M686.5 245V246M687.5 246V247M688.5 246V247M689.5 247V248M690.5 247V248M691.5 248V249M692.5 248V249M693.5 249V250M694.5 249V250M695.5 250V251M696.5 251V252M697.5 252V253M698.5 252V253M699.5 253V254M700.5 254V256M701.5 256V257M702.5 257V258M703.5 258V259M704.5 259V261M705.5 261V262M706.5 262V263M707.5 263V265M708.5 265V266M709.5 266V268M710.5 268V270M711.5 270V271M712.5 271V273M713.5 273V274M714.5 274V276M715.5 276V277M716.5 277V278M717.5 278V280M718.5 280V281M719.5 281V283M720.5 283V284M721.5 284V285M722.5 285V286M723.5 286V288M724.5 288V289M725.5 289V290M726.5 290V291M727.5 291V292M728.5 292V293M729.5 293V294M730.5 294V295M731.5 295V296M732.5 296V297M733.5 297V298M734.5 298V299M735.5 299V300M736.5 300V301M737.5 301V302M738.5 302V303M739.5 303V304M740.5 304V305M741.5 305V306M742.5 306V307M743.5 307V308M744.5 307V308M745.5 308V309M746.5 309V310M747.5 309V310M748.5 310V311M749.5 310V311M750.5 311V312M751.5 311V312M752.5 312V313M753.5 312V313M754.5 312V313M755.5 312V313M756.5 313V314M757.5 313V314M758.5 313V314M759.5 313V314M760.5 313V314M761.5 313V314M762.5 313V314M763.5 313V314M764.5 313V314M765.5 313V314M766.5 313V314M767.5 313V314M768.5 312V313M769.5 312V313M770.5 311V312M771.5 311V312M772.5 311V312M773.5 310V311M774.5 310V311M775.5 309V310M776.5 309V310M777.5 308V309M778.5 308V309M779.5 307V308M780.5 306V307M781.5 306V307M782.5 305V306M783.5 304V305M784.5 304V305M785.5 303V304M786.5 302V303M787.5 302V303M788.5 301V302M789.5 300V301M790.5 300V301M791.5 299V300M792.5 299V300M793.5 298V299M794.5 297V298M795.5 297V298M796.5 296V297M797.5 295V296M798.5 295V296M799.5 294V295M800.5 294V295M801.5 293V294M802.5 293V294M803.5 292V293M804.5 292V293M805.5 291V292M806.5 291V292M807.5 290V291M808.5 290V291M809.5 289V290M810.5 289V290M811.5 289V290M812.5 288V289M813.5 288V289M814.5 287V288M815.5 286V287M816.5 285V286M817.5 284V285M818.5 284V285M819.5 283V284M820.5 282V283M821.5 281V282M822.5 280V281M823.5 280V281M824.5 279V280M825.5 278V279M826.5 277V278M827.5 277V278M828.5 276V277M829.5 276V277M830.5 276V277M831.5 275V276M832.5 275V276M833.5 274V275M834.5 274V275M835.5 273V274M836.5 273V274M837.5 272V273M838.5 271V272M839.5 271V272M840.5 270V271M841.5 269V270M842.5 269V270M843.5 268V269M844.5 268V269M845.5 268V269M846.5 268V269M847.5 267V268" fill="none" stroke="#ffff00" stroke-width="1"/>
<path d="M4.5 121V122M5.5 121V122M6.5 121V122M7.5 121V122M8.5 121V122M9.5 121V122M10.5 122V123M11.5 123V124M12.5 124V125M13.5 124V125M14.5 124V125M15.5 125V126M16.5 125V126M17.5 124V125M18.5 124V125M19.5 123V124M20.5 122V123M21.5 121V122M22.5 120V121M23.5 120V121M24.5 119V120M25.5 118V119M26.5 118V119M27.5 118V119M28.5 118V119M29.5 117V118M30.5 117V118M31.5 117V118M32.5 117V118M33.5 116V117M34.5 116V117M35.5 116V117M36.5 116V117M37.5 115V116M38.5 115V116M39.5 114V115M40.5 113V114M41.5 112V113" fill="none" stroke="#ff0000" stroke-width="1"/>
<path d="M111.5 113V114M112.5 114V116M113.5 116V118M114.5 118V119M115.5 119V121M116.5 121V123M117.5 123V125M118.5 125V127M119.5 127V129M120.5 129V131M121.5 131V133M122.5 133V135M123.5 135V137M124.5 137V139M125.5 139V141M126.5 141V143M127.5 143V145M128.5 145V147M129.5 147V149M130.5 149V151M131.5 151V153M132.5 153V155M133.5 155V157M134.5 157V158M135.5 158V160M136.5 160V162M137.5 162V164M138.5 164V165M139.5 165V167M140.5 167V169M141.5 169V170M142.5 170V171M143.5 171V172M144.5 172V174M145.5 174V175M146.5 175V176M147.5 175V176M148.5 176V177M149.5 177V178M150.5 178V179M151.5 178V179M152.5 178V179M153.5 178V179M154.5 178V179M155.5 178V179M156.5 178V179M157.5 177V178M158.5 177V178M159.5 176V177M160.5 176V177M161.5 175V176M162.5 174V175M163.5 174V175M164.5 173V174M165.5 172V173M166.5 172V173M167.5 172V173M168.5 172V173M169.5 172V173M170.5 172V173M171.5 172V173M172.5 172V173M173.5 172V173M174.5 172V173M175.5 172V173M176.5 172V173M177.5 172V173M178.5 172V173M179.5 172V173M180.5 172V173M181.5 172V173M182.5 172V173M183.5 172V173M184.5 172V173M185.5 171V172M186.5 171V172M187.5 170V171M188.5 170V171M189.5 170V171M190.5 170V171M191.5 170V171M192.5 170V171M193.5 170V171M194.5 170V171M195.5 170V171M196.5 170V171M197.5 169V170M198.5 169V170M199.5 169V170M200.5 169V170M201.5 169V170M202.5 168V169M203.5 167V168M204.5 167V168M205.5 166V167M206.5 165V166M207.5 165V166M208.5 164V165M209.5 164V165M210.5 165V166M211.5 165V166M212.5 166V167M213.5 167V168M214.5 168V169M215.5 168V169M216.5 168V169M217.5 169V170M218.5 169V170M219.5 170V171M220.5 170V171M221.5 170V171M222.5 170V171M223.5 171V172M224.5 171V172M225.5 171V172M226.5 171V172M227.5 171V172M228.5 171V172M229.5 171V172M230.5 172V173M231.5 172V173M232.5 172V173M233.5 172V173M234.5 172V173M235.5 172V173M236.5 172V173M237.5 172V173M238.5 172V173M239.5 171V172M240.5 171V172M241.5 171V172M242.5 171V172M243.5 171V172M244.5 171V172M245.5 171V172M246.5 171V172M247.5 170V171M248.5 170V171M249.5 170V171M250.5 170V171M251.5 170V171M252.5 170V171M253.5 171V172M254.5 172V173M255.5 172V173M256.5 173V174M257.5 174V175M258.5 174V175M259.5 175V176M260.5 176V178M261.5 178V179M262.5 179V181M263.5 181V182M264.5 182V184M265.5 184V185M266.5 185V187M267.5 187V188M268.5 188V190M269.5 190V191M270.5 191V193M271.5 193V194M272.5 194V195M273.5 194V195M274.5 195V196M275.5 196V197M276.5 197V198M277.5 197V198M278.5 198V199M279.5 198V199M280.5 199V200M281.5 200V201M282.5 200V201M283.5 201V202M284.5 201V202M285.5 201V202M286.5 201V202M287.5 201V202M288.5 201V202M289.5 201V202M290.5 202V203M291.5 203V204M292.5 204V205M293.5 205V206M294.5 206V207M295.5 207V208M296.5 207V208M297.5 208V209M298.5 209V210M299.5 210V211M300.5 210V211M301.5 211V212M302.5 212V213M303.5 212V213M304.5 212V213M305.5 213V214M306.5 213V214M307.5 214V215M308.5 214V215M309.5 214V215M310.5 215V216M311.5 215V216M312.5 216V217M313.5 217V218M314.5 217V218M315.5 218V219M316.5 218V219M317.5 219V220M318.5 219V220M319.5 219V220M320.5 220V221M321.5 220V221M322.5 220V221M323.5 221V222M324.5 221V222M325.5 221V222M326.5 222V223M327.5 223V224M328.5 224V225M329.5 224V225M330.5 225V226M331.5 226V227M332.5 227V228M333.5 228V230M334.5 230V232M335.5 232V233M336.5 233V235M337.5 235V237M338.5 237V239M339.5 239V241M340.5 241V243M341.5 243V245M342.5 245V247M343.5 247V249M344.5 249V250M345.5 250V251M346.5 251V252M347.5 252V253M348.5 253V254M349.5 254V256M350.5 256V257M351.5 257V258M352.5 258V260M353.5 260V261M354.5 261V262M355.5 262V264M356.5 264V265M357.5 265V266M358.5 266V267M359.5 267V268M360.5 268V270M361.5 270V271M362.5 271V272M363.5 272V273M364.5 273V274M365.5 273V274M366.5 274V275M367.5 275V276M368.5 276V277M369.5 276V277M370.5 275V276M371.5 275V276M372.5 275V276M373.5 275V276M374.5 274V275M375.5 274V275M376.5 273V274M377.5 273V274M378.5 272V273M379.5 272V273M380.5 271V272M381.5 271V272M382.5 270V271M383.5 269V270M384.5 268V269M385.5 267V268M386.5 267V268M387.5 266V267M388.5 265V266M389.5 264V265M390.5 263V264M391.5 262V263M392.5 261V262M393.5 260V261M394.5 259V260M395.5 258V259M396.5 257V258M397.5 256V257M398.5 255V256M399.5 254V255M400.5 253V254M401.5 252V253M402.5 251V252M403.5 250V251M404.5 249V250M405.5 248V249M406.5 248V249M407.5 247V248M408.5 247V248M409.5 246V247M410.5 246V247M411.5 245V246M412.5 245V246M413.5 244V245M414.5 244V245M415.5 243V244M416.5 243V244M417.5 243V244M418.5 243V244M419.5 243V244M420.5 243V244M421.5 243V244M422.5 243V244M423.5 243V244M424.5 244V245M425.5 245V246M426.5 246V247M427.5 247V248M428.5 248V249M429.5 249V251M430.5 251V253M431.5 253V254M432.5 254V256M433.5 256V258M434.5 258V260M435.5 260V261M436.5 261V263M437.5 263V265M438.5 265V267M439.5 267V269M440.5 269V271M441.5 271V272M442.5 272V274M443.5 274V275M444.5 275V276M445.5 276V277M446.5 277V279M447.5 279V280M448.5 280V281M449.5 281V282M450.5 282V283M451.5 283V284M452.5 284V286M453.5 286V287M454.5 287V288M455.5 288V289M456.5 289V290M457.5 290V291M458.5 291V292M459.5 292V293M460.5 293V294M461.5 294V295M462.5 295V296M463.5 295V296M464.5 296V297M465.5 296V297M466.5 297V298M467.5 298V299M468.5 299V300M469.5 300V301M470.5 300V301M471.5 301V302M472.5 302V303M473.5 303V304M474.5 303V304M475.5 304V305M476.5 304V305M477.5 305V306M478.5 305V306M479.5 305V306M480.5 305V306M481.5 305V306M482.5 305V306M483.5 304V305M484.5 304V305M485.5 303V304M486.5 303V304M487.5 302V303M488.5 302V303M489.5 302V303M490.5 302V303M491.5 302V303M492.5 301V302M493.5 301V302M494.5 301V302M495.5 301V302M496.5 301V302M497.5 301V302M498.5 301V302M499.5 301V302M500.5 301V302M501.5 302V303M502.5 302V303M503.5 302V303M504.5 302V303M505.5 302V303M506.5 303V304M507.5 303V304M508.5 303V304M509.5 303V304M510.5 303V304M511.5 303V304M512.5 304V305M513.5 304V305M514.5 304V305M515.5 304V305M516.5 305V306M517.5 305V306M518.5 305V306M519.5 305V306M520.5 306V307M521.5 305V306M522.5 305V306M523.5 304V305M524.5 304V305M525.5 303V304M526.5 303V304M527.5 302V303M528.5 302V303M529.5 301V302M530.5 300V301M531.5 300V301M532.5 299V300M533.5 298V299M534.5 298V299M535.5 297V298M536.5 296V297M537.5 296V297M538.5 295V296M539.5 294V295M540.5 293V295M541.5 291V293M542.5 290V291M543.5 288V290M544.5 286V288M545.5 285V286M546.5 283V285M547.5 282V283M548.5 280V282M549.5 279V280M550.5 278V279M551.5 277V278M552.5 275V277M553.5 274V275M554.5 273V274M555.5 272V273M556.5 271V272M557.5 270V271M558.5 269V270M559.5 268V269M560.5 267V269M561.5 266V267M562.5 265V266M563.5 264V265M564.5 263V264M565.5 262V263M566.5 261V262M567.5 259V261M568.5 258V259M569.5 257V258M570.5 255V257M571.5 254V255M572.5 252V254M573.5 250V252M574.5 248V250M575.5 247V248M576.5 245V247M577.5 244V245M578.5 243V244M579.5 242V243M580.5 242V243M581.5 241V242M582.5 240V241M583.5 239V240M584.5 239V240M585.5 238V239M586.5 238V239M587.5 237V238M588.5 236V237M589.5 236V237M590.5 235V236M591.5 235V236M592.5 234V235M593.5 234V235M594.5 234V235M595.5 234V235M596.5 234V235M597.5 234V235M598.5 235V236M599.5 235V236M600.5 236V237M601.5 236V237M602.5 237V238M603.5 237V238M604.5 238V239M605.5 238V239M606.5 238V239M607.5 238V239M608.5 238V239M609.5 238V239M610.5 238V239M611.5 238V239M612.5 238V239M613.5 238V239M614.5 238V239M615.5 238V239M616.5 238V239M617.5 237V238M618.5 237V238M619.5 236V237M620.5 235V236M621.5 234V235M622.5 233V234M623.5 233V234M624.5 232V233M625.5 232V233M626.5 231V232M627.5 231V232M628.5 230V231M629.5 230V231M630.5 230V231M631.5 229V230M632.5 229V230M633.5 229V230M634.5 228V229M635.5 228V229M636.5 228V229M637.5 228V229M638.5 228V229M639.5 228V229M640.5 229V230M641.5 229V230M642.5 229V230M643.5 229V230M644.5 230V231M645.5 230V231M646.5 230V231M647.5 231V232M648.5 231V232M649.5 231V232M650.5 232V233M651.5 232V233M652.5 233V234M653.5 233V234M654.5 233V234M655.5 234V235M656.5 234V235M657.5 235V236M658.5 235V236M659.5 235V236M660.5 235V236M661.5 235V236M662.5 236V237M663.5 236V237M664.5 236V237M665.5 236V237M666.5 236V237M667.5 236V237M668.5 236V237M669.5 236V237M670.5 236V237M671.5 237V238M672.5 237V238M673.5 238V239M674.5 239V240M675.5 239V240M676.5 240V241M677.5 241V242M678.5 242V243M679.5 243V244M680.5 244V245M681.5 245V246M682.5 246V248M683.5 248V249M684.5 249V251M685.5 251V252M686.5 252V254M687.5 254V255M688.5 255V257M689.5 257V258M690.5 258V259M691.5 259V261M692.5 261V262M693.5 262V264M694.5 264V266M695.5 266V267M696.5 267V269M697.5 269V271M698.5 271V273M699.5 273V274M700.5 274V276M701.5 276V277M702.5 277V278M703.5 278V279M704.5 279V281M705.5 281V282M706.5 282V283M707.5 283V284M708.5 284V286M709.5 286V287M710.5 287V288M711.5 288V289M712.5 289V291M713.5 291V292M714.5 292V294M715.5 294V295M716.5 295V297M717.5 297V298M718.5 298V300M719.5 300V301M720.5 301V302M721.5 302V303M722.5 303V304M723.5 304V306M724.5 306V307M725.5 307V308M726.5 308V309M727.5 309V310M728.5 310V311M729.5 311V313M730.5 313V314M731.5 314V315M732.5 315V316M733.5 316V318M734.5 318V319M735.5 319V321M736.5 321V322M737.5 322V324M738.5 324V325M739.5 325V326M740.5 326V327M741.5 326V327M742.5 327V328M743.5 328V329M744.5 328V329M745.5 328V329M746.5 329V330M747.5 329V330M748.5 328V329M749.5 328V329M750.5 327V328M751.5 327V328M752.5 327V328M753.5 326V327M754.5 325V326M755.5 325V326M756.5 324V325M757.5 324V325M758.5 323V324M759.5 322V323M760.5 321V322M761.5 320V321M762.5 319V320M763.5 318V319M764.5 316V318M765.5 314V316M766.5 312V314M767.5 311V312M768.5 309V311M769.5 308V309M770.5 306V308M771.5 305V306M772.5 303V305M773.5 302V303M774.5 301V302M775.5 299V301M776.5 298V299M777.5 297V298M778.5 296V297M779.5 295V296M780.5 294V295M781.5 293V294M782.5 292V293M783.5 291V292M784.5 290V291M785.5 289V290M786.5 288V289M787.5 287V288M788.5 286V287M789.5 285V286M790.5 284V285M791.5 283V284M792.5 282V283M793.5 280V282M794.5 279V280M795.5 278V279M796.5 277V278M797.5 276V277M798.5 275V276M799.5 274V275M800.5 274V275M801.5 273V274M802.5 273V274M803.5 273V274M804.5 273V274M805.5 273V274M806.5 273V274M807.5 273V274M808.5 273V274M809.5 273V274M810.5 273V274M811.5 273V274M812.5 274V275M813.5 274V275M814.5 274V275M815.5 274V275M816.5 274V275M817.5 274V275M818.5 274V275M819.5 275V276M820.5 275V276M821.5 275V276M822.5 275V276M823.5 275V276M824.5 275V276M825.5 276V277M826.5 276V277M827.5 276V277M828.5 277V278M829.5 277V278M830.5 277V278M831.5 277V278M832.5 277V278M833.5 277V278M834.5 276V277M835.5 275V276M836.5 275V276M837.5 274V275M838.5 274V275M839.5 273V274M840.5 272V273M841.5 272V273M842.5 271V272M843.5 270V271M844.5 270V271M845.5 269V270M846.5 269V270M847.5 268V269" fill="none" stroke="#ff0000" stroke-width="1"/>
<path d="M111.5 114V115M112.5 114V115M113.5 114V115M114.5 114V115M115.5 115V116M116.5 115V116M117.5 115V116M118.5 116V117M119.5 116V117M120.5 116V117M121.5 116V117M122.5 116V117M123.5 117V118M124.5 117V118M125.5 117V118M126.5 118V119M127.5 118V119M128.5 119V120M129.5 119V120M130.5 120V121M131.5 121V122M132.5 121V122M133.5 122V123M134.5 122V123M135.5 122V123M136.5 123V124M137.5 123V124M138.5 124V125M139.5 124V125M140.5 125V126M141.5 125V126M142.5 125V126M143.5 126V127M144.5 126V127M145.5 127V128M146.5 127V128M147.5 127V128M148.5 128V129M149.5 128V129M150.5 129V130M151.5 129V130M152.5 130V131M153.5 130V131M154.5 130V131M155.5 131V132M156.5 131V132M157.5 132V133M158.5 132V133M159.5 133V134M160.5 133V134M161.5 134V135M162.5 134V135M163.5 134V135M164.5 135V136M165.5 135V136M166.5 136V137M167.5 136V137M168.5 137V138M169.5 137V138M170.5 138V139M171.5 138V139M172.5 138V139M173.5 139V140M174.5 139V140M175.5 140V141M176.5 140V141M177.5 140V141M178.5 141V142M179.5 141V142M180.5 142V143M181.5 142V143M182.5 142V143M183.5 143V144M184.5 143V144M185.5 144V145M186.5 145V146M187.5 146V147M188.5 146V147M189.5 147V148M190.5 148V149M191.5 148V149M192.5 149V150M193.5 150V151M194.5 150V151M195.5 151V152M196.5 152V153M197.5 153V154M198.5 153V154M199.5 154V155M200.5 155V156M201.5 156V157M202.5 156V157M203.5 157V158M204.5 158V159M205.5 159V160M206.5 160V161M207.5 161V162M208.5 162V163M209.5 163V164M210.5 163V164M211.5 164V165M212.5 164V165M213.5 165V166M214.5 166V167M215.5 166V167M216.5 167V168M217.5 167V168M218.5 168V169M219.5 168V169M220.5 169V170M221.5 169V170M222.5 170V171M223.5 170V171M224.5 170V171M225.5 171V172M226.5 171V172M227.5 171V172M228.5 172V173M229.5 172V173M230.5 172V173M231.5 172V173M232.5 172V173M233.5 172V173M234.5 172V173M235.5 172V173M236.5 172V173M237.5 172V173M238.5 172V173M239.5 172V173M240.5 172V173M241.5 172V173M242.5 172V173M243.5 172V173M244.5 172V173M245.5 172V173M246.5 172V173M247.5 172V173M248.5 171V172M249.5 171V172M250.5 171V172M251.5 171V172M252.5 172V173M253.5 172V173M254.5 173V174M255.5 173V174M256.5 173V174M257.5 174V175M258.5 174V175M259.5 175V176M260.5 175V176M261.5 175V176M262.5 176V177M263.5 176V177M264.5 176V177M265.5 177V178M266.5 177V178M267.5 178V179M268.5 178V179M269.5 178V179M270.5 179V180M271.5 179V180M272.5 179V180M273.5 180V181M274.5 180V181M275.5 180V181M276.5 181V182M277.5 181V182M278.5 181V182M279.5 181V182M280.5 181V182M281.5 181V182M282.5 181V182M283.5 181V182M284.5 181V182M285.5 181V182M286.5 182V183M287.5 182V183M288.5 182V183M289.5 183V184M290.5 183V184M291.5 183V184M292.5 183V184M293.5 184V185M294.5 184V185M295.5 185V186M296.5 185V186M297.5 186V187M298.5 186V187M299.5 187V188M300.5 187V188M301.5 188V189M302.5 188V189M303.5 188V189M304.5 188V189M305.5 188V189M306.5 188V189M307.5 188V189M308.5 189V190M309.5 189V190M310.5 189V190M311.5 190V191M312.5 191V192M313.5 191V192M314.5 192V193M315.5 193V194M316.5 193V194M317.5 194V195M318.5 195V196M319.5 195V196M320.5 196V197M321.5 197V198M322.5 198V199M323.5 198V199M324.5 199V200M325.5 200V201M326.5 200V201M327.5 201V202M328.5 202V203M329.5 202V203M330.5 203V204M331.5 204V205M332.5 205V206M333.5 205V206M334.5 206V207M335.5 207V208M336.5 208V209M337.5 209V210M338.5 210V211M339.5 211V212M340.5 212V213M341.5 213V214M342.5 214V215M343.5 215V216M344.5 216V217M345.5 217V218M346.5 218V219M347.5 219V220M348.5 219V220M349.5 220V221M350.5 221V222M351.5 222V223M352.5 223V224M353.5 224V225M354.5 225V226M355.5 225V226M356.5 226V227M357.5 227V228M358.5 228V229M359.5 228V229M360.5 229V230M361.5 230V231M362.5 231V232M363.5 231V232M364.5 232V233M365.5 233V234M366.5 233V234M367.5 234V235M368.5 234V235M369.5 235V236M370.5 235V236M371.5 236V237M372.5 236V237M373.5 236V237M374.5 237V238M375.5 237V238M376.5 238V239M377.5 238V239M378.5 239V240M379.5 239V240M380.5 240V241M381.5 240V241M382.5 241V242M383.5 241V242M384.5 242V243M385.5 242V243M386.5 243V244M387.5 243V244M388.5 244V245M389.5 244V245M390.5 244V245M391.5 244V245M392.5 244V245M393.5 244V245M394.5 244V245M395.5 244V245M396.5 244V245M397.5 244V245M398.5 244V245M399.5 244V245M400.5 244V245M401.5 244V245M402.5 244V245M403.5 244V245M404.5 244V245M405.5 244V245M406.5 244V245M407.5 244V245M408.5 245V246M409.5 245V246M410.5 245V246M411.5 246V247M412.5 246V247M413.5 246V247M414.5 247V248M415.5 247V248M416.5 248V249M417.5 248V249M418.5 249V250M419.5 249V250M420.5 250V251M421.5 250V251M422.5 251V252M423.5 252V253M424.5 252V253M425.5 253V254M426.5 254V255M427.5 254V255M428.5 255V256M429.5 256V257M430.5 256V257M431.5 257V258M432.5 258V259M433.5 259V260M434.5 260V261M435.5 260V261M436.5 261V262M437.5 262V263M438.5 263V264M439.5 264V265M440.5 264V265M441.5 265V266M442.5 266V267M443.5 267V268M444.5 267V268M445.5 268V269M446.5 269V270M447.5 269V270M448.5 270V271M449.5 271V272M450.5 271V272M451.5 272V273M452.5 272V273M453.5 272V273M454.5 272V273M455.5 273V274M456.5 273V274M457.5 273V274M458.5 274V275M459.5 274V275M460.5 274V275M461.5 274V275M462.5 274V275M463.5 274V275M464.5 274V275M465.5 274V275M466.5 275V276M467.5 275V276M468.5 275V276M469.5 275V276M470.5 275V276M471.5 275V276M472.5 275V276M473.5 275V276M474.5 275V276M475.5 275V276M476.5 275V276M477.5 275V276M478.5 275V276M479.5 275V276M480.5 275V276M481.5 275V276M482.5 275V276M483.5 275V276M484.5 275V276M485.5 275V276M486.5 275V276M487.5 275V276M488.5 276V277M489.5 276V277M490.5 276V277M491.5 277V278M492.5 277V278M493.5 277V278M494.5 278V279M495.5 278V279M496.5 278V279M497.5 279V280M498.5 279V280M499.5 279V280M500.5 279V280M501.5 280V281M502.5 280V281M503.5 280V281M504.5 281V282M505.5 281V282M506.5 281V282M507.5 282V283M508.5 282V283M509.5 283V284M510.5 283V284M511.5 284V285M512.5 285V286M513.5 285V286M514.5 286V287M515.5 287V288M516.5 287V288M517.5 288V289M518.5 289V290M519.5 289V290M520.5 289V290M521.5 290V291M522.5 290V291M523.5 290V291M524.5 291V292M525.5 291V292M526.5 291V292M527.5 292V293M528.5 292V293M529.5 292V293M530.5 292V293M531.5 292V293M532.5 293V294M533.5 293V294M534.5 293V294M535.5 293V294M536.5 294V295M537.5 294V295M538.5 294V295M539.5 293V294M540.5 293V294M541.5 293V294M542.5 293V294M543.5 293V294M544.5 293V294M545.5 293V294M546.5 292V293M547.5 292V293M548.5 292V293M549.5 292V293M550.5 292V293M551.5 292V293M552.5 292V293M553.5 292V293M554.5 291V292M555.5 291V292M556.5 291V292M557.5 291V292M558.5 290V291M559.5 290V291M560.5 290V291M561.5 290V291M562.5 289V290M563.5 289V290M564.5 289V290M565.5 288V289M566.5 288V289M567.5 287V288M568.5 287V288M569.5 286V287M570.5 285V286M571.5 285V286M572.5 284V285M573.5 283V284M574.5 283V284M575.5 282V283M576.5 281V282M577.5 280V281M578.5 279V280M579.5 279V280M580.5 278V279M581.5 277V278M582.5 277V278M583.5 276V277M584.5 275V276M585.5 275V276M586.5 274V275M587.5 274V275M588.5 273V274M589.5 272V273M590.5 272V273M591.5 271V272M592.5 271V272M593.5 270V271M594.5 270V271M595.5 269V270M596.5 269V270M597.5 268V269M598.5 268V269M599.5 268V269M600.5 267V268M601.5 267V268M602.5 267V268M603.5 267V268M604.5 266V267M605.5 266V267M606.5 266V267M607.5 265V266M608.5 265V266M609.5 265V266M610.5 265V266M611.5 264V265M612.5 264V265M613.5 264V265M614.5 263V264M615.5 263V264M616.5 263V264M617.5 262V263M618.5 262V263M619.5 261V262M620.5 260V261M621.5 259V260M622.5 259V260M623.5 258V259M624.5 257V258M625.5 256V257M626.5 256V257M627.5 255V256M628.5 254V255M629.5 253V254M630.5 252V253M631.5 251V252M632.5 251V252M633.5 250V251M634.5 249V250M635.5 248V249M636.5 247V248M637.5 247V248M638.5 246V247M639.5 245V246M640.5 245V246M641.5 244V245M642.5 244V245M643.5 243V244M644.5 242V243M645.5 242V243M646.5 241V242M647.5 241V242M648.5 241V242M649.5 240V241M650.5 240V241M651.5 240V241M652.5 240V241M653.5 240V241M654.5 239V240M655.5 239V240M656.5 239V240M657.5 239V240M658.5 239V240M659.5 239V240M660.5 238V239M661.5 238V239M662.5 238V239M663.5 238V239M664.5 238V239M665.5 238V239M666.5 238V239M667.5 238V239M668.5 238V239M669.5 238V239M670.5 238V239M671.5 238V239M672.5 238V239M673.5 238V239M674.5 238V239M675.5 238V239M676.5 239V240M677.5 239V240M678.5 239V240M679.5 240V241M680.5 240V241M681.5 240V241M682.5 240V241M683.5 241V242M684.5 241V242M685.5 241V242M686.5 242V243M687.5 242V243M688.5 242V243M689.5 243V244M690.5 243V244M691.5 243V244M692.5 244V245M693.5 244V245M694.5 245V246M695.5 245V246M696.5 246V247M697.5 246V247M698.5 247V248M699.5 247V248M700.5 248V249M701.5 248V249M702.5 249V250M703.5 249V250M704.5 250V251M705.5 251V252M706.5 251V252M707.5 252V253M708.5 253V254M709.5 253V254M710.5 254V255M711.5 255V256M712.5 256V257M713.5 257V258M714.5 258V259M715.5 258V259M716.5 259V260M717.5 260V261M718.5 261V262M719.5 262V263M720.5 263V264M721.5 264V265M722.5 264V265M723.5 265V266M724.5 266V267M725.5 267V268M726.5 268V269M727.5 269V270M728.5 269V270M729.5 270V271M730.5 271V272M731.5 272V273M732.5 272V273M733.5 273V274M734.5 274V275M735.5 274V275M736.5 275V276M737.5 276V277M738.5 276V277M739.5 277V278M740.5 278V279M741.5 278V279M742.5 279V280M743.5 279V280M744.5 279V280M745.5 280V281M746.5 280V281M747.5 281V282M748.5 281V282M749.5 281V282M750.5 282V283M751.5 282V283M752.5 283V284M753.5 283V284M754.5 284V285M755.5 284V285M756.5 285V286M757.5 285V286M758.5 286V287M759.5 286V287M760.5 287V288M761.5 287V288M762.5 288V289M763.5 288V289M764.5 288V289M765.5 289V290M766.5 289V290M767.5 290V291M768.5 290V291M769.5 291V292M770.5 291V292M771.5 291V292M772.5 292V293M773.5 292V293M774.5 292V293M775.5 292V293M776.5 293V294M777.5 293V294M778.5 293V294M779.5 293V294M780.5 293V294M781.5 293V294M782.5 293V294M783.5 293V294M784.5 293V294M785.5 293V294M786.5 293V294M787.5 294V295M788.5 294V295M789.5 294V295M790.5 294V295M791.5 294V295M792.5 294V295M793.5 294V295M794.5 294V295M795.5 294V295M796.5 294V295M797.5 295V296M798.5 295V296M799.5 295V296M800.5 296V297M801.5 296V297M802.5 296V297M803.5 296V297M804.5 297V298M805.5 297V298M806.5 297V298M807.5 297V298M808.5 297V298M809.5 297V298M810.5 297V298M811.5 298V299M812.5 298V299M813.5 298V299M814.5 298V299M815.5 298V299M816.5 298V299M817.5 298V299M818.5 298V299M819.5 298V299M820.5 298V299M821.5 298V299M822.5 298V299M823.5 299V300M824.5 299V300M825.5 299V300M826.5 299V300M827.5 298V299M828.5 298V299M829.5 298V299M830.5 298V299M831.5 297V298M832.5 297V298M833.5 296V297M834.5 295V296M835.5 294V295M836.5 293V294M837.5 292V293M838.5 292V293M839.5 291V292M840.5 290V291M841.5 290V291M842.5 289V290M843.5 288V289M844.5 288V289M845.5 287V288M846.5 286V287M847.5 286V287" fill="none" stroke="#0000cd" stroke-width="1"/>
<rect x="4" y="72" width="1" height="1" fill="#0000cd"/>
</g>
<g shape-rendering="crispEdges">
<rect x="5" y="44" width="225" height="70" fill="#fff"/>
<rect x="7" y="48" width="52" height="25" fill="url(#bg)"/>
<rect x="174" y="48" width="52" height="25" fill="url(#bg)"/>
</g>
<g shape-rendering="crispEdges">
<rect x="7" y="72" width="109" height="39" fill="url(#bg)"/>
<rect x="118" y="72" width="108" height="39" fill="url(#bg)"/>
<rect x="11" y="71" width="44" height="1" fill="#1010a0"/><rect x="11" y="72" width="44" height="1" fill="#6868f0"/>
<rect x="178" y="71" width="44" height="1" fill="#1010a0"/><rect x="178" y="72" width="44" height="1" fill="#6868f0"/>
<rect x="61" y="48" width="111" height="22" fill="#fff" stroke="#b4b4b4" stroke-width="1" transform="translate(0.5,0.5)"/>
<rect x="63" y="50" width="19" height="19" fill="url(#sp2)"/>
<rect x="151" y="50" width="20" height="19" fill="url(#sp2)"/>
<rect x="82" y="49" width="1" height="21" fill="#c0c0c0"/><rect x="150" y="49" width="1" height="21" fill="#c0c0c0"/>
</g>
<path d="M69.5 57.5 L74.5 57.5 L72 60.5 Z" fill="#5466c8"/>
<path d="M158.5 60.5 L163.5 60.5 L161 57.5 Z" fill="#5466c8"/>
<text x="146.5" y="63" font-size="12.2" fill="#000" text-anchor="end" textLength="30" lengthAdjust="spacingAndGlyphs">16.00</text>
<text x="19.7" y="64" font-size="12.4" fill="#fff" text-anchor="start" textLength="25.2" lengthAdjust="spacingAndGlyphs">SELL</text>
<text x="187.7" y="64" font-size="12.4" fill="#fff" text-anchor="start" textLength="22.2" lengthAdjust="spacingAndGlyphs">BUY</text>
<text x="27.2" y="102.8" font-size="12.8" fill="#fff" text-anchor="start" textLength="23.6" lengthAdjust="spacingAndGlyphs" font-weight="bold">0.72</text>
<text x="137.2" y="102.8" font-size="12.8" fill="#fff" text-anchor="start" textLength="23.6" lengthAdjust="spacingAndGlyphs" font-weight="bold">0.72</text>
<text x="56" y="102.8" font-size="34.6" fill="#fff" text-anchor="start" textLength="32.6" lengthAdjust="spacingAndGlyphs" stroke="url(#bg)" stroke-width="0.7">33</text>
<text x="166.5" y="102.8" font-size="34.6" fill="#fff" text-anchor="start" textLength="32.6" lengthAdjust="spacingAndGlyphs" stroke="url(#bg)" stroke-width="0.7">35</text>
<text x="94.4" y="87.3" font-size="13" fill="#fff" text-anchor="start" textLength="6.8" lengthAdjust="spacingAndGlyphs" font-weight="bold">6</text>
<text x="204.6" y="87.3" font-size="13" fill="#fff" text-anchor="start" textLength="7" lengthAdjust="spacingAndGlyphs" font-weight="bold">7</text>
<path d="M7 39 L14 39 L10.5 35 Z" fill="#000"/>
<text x="20" y="40" font-size="10.17" fill="#000" text-anchor="start" textLength="64.5" lengthAdjust="spacingAndGlyphs" stroke="#000" stroke-width="0.14">AUDUSD,Daily</text>
<text x="91.5" y="40" font-size="10.17" fill="#000" text-anchor="start" textLength="32.6" lengthAdjust="spacingAndGlyphs" stroke="#000" stroke-width="0.14">0.72485</text>
<text x="127.3" y="40" font-size="10.17" fill="#000" text-anchor="start" textLength="32.6" lengthAdjust="spacingAndGlyphs" stroke="#000" stroke-width="0.14">0.72531</text>
<text x="163.2" y="40" font-size="10.17" fill="#000" text-anchor="start" textLength="32.6" lengthAdjust="spacingAndGlyphs" stroke="#000" stroke-width="0.14">0.72276</text>
<text x="199.2" y="40" font-size="10.17" fill="#000" text-anchor="start" textLength="32.6" lengthAdjust="spacingAndGlyphs" stroke="#000" stroke-width="0.14">0.72336</text>
<g shape-rendering="crispEdges" fill="#000">
<rect x="3" y="28" width="1069" height="1"/>
<rect x="3" y="28" width="1" height="558"/>
<rect x="1071" y="28" width="1" height="558"/>
<rect x="3" y="435" width="1069" height="1"/>
<rect x="3" y="436" width="1069" height="1" fill="#fff"/>
<rect x="3" y="437" width="1069" height="1"/>
<rect x="3" y="514" width="1069" height="1"/>
<rect x="3" y="515" width="1069" height="1" fill="#fff"/>
<rect x="3" y="516" width="1069" height="1"/>
<rect x="3" y="585" width="1069" height="1"/>
<rect x="1072" y="36" width="2" height="1"/>
<rect x="1072" y="69" width="2" height="1"/>
<rect x="1072" y="102" width="2" height="1"/>
<rect x="1072" y="135" width="2" height="1"/>
<rect x="1072" y="168" width="2" height="1"/>
<rect x="1072" y="201" width="2" height="1"/>
<rect x="1072" y="234" width="2" height="1"/>
<rect x="1072" y="267" width="2" height="1"/>
<rect x="1072" y="300" width="2" height="1"/>
<rect x="1072" y="333" width="2" height="1"/>
<rect x="1072" y="366" width="2" height="1"/>
<rect x="1072" y="399" width="2" height="1"/>
<rect x="1072" y="432" width="2" height="1"/>
<rect x="1072" y="439" width="1" height="1"/><rect x="1072" y="518" width="1" height="1"/><rect x="1072" y="544" width="1" height="1"/><rect x="1072" y="585" width="1" height="1"/>
<rect x="1073" y="241" width="41" height="11"/>
<rect x="1069" y="246" width="3" height="1" fill="#fff"/>
</g>
<text x="1077" y="39.8" font-size="10.17" fill="#000" text-anchor="start" textLength="33" lengthAdjust="spacingAndGlyphs" stroke="#000" stroke-width="0.14">0.77040</text>
<text x="1077" y="72.8" font-size="10.17" fill="#000" text-anchor="start" textLength="33" lengthAdjust="spacingAndGlyphs" stroke="#000" stroke-width="0.14">0.76300</text>
<text x="1077" y="105.8" font-size="10.17" fill="#000" text-anchor="start" textLength="33" lengthAdjust="spacingAndGlyphs" stroke="#000" stroke-width="0.14">0.75560</text>
<text x="1077" y="138.8" font-size="10.17" fill="#000" text-anchor="start" textLength="33" lengthAdjust="spacingAndGlyphs" stroke="#000" stroke-width="0.14">0.74820</text>
<text x="1077" y="171.8" font-size="10.17" fill="#000" text-anchor="start" textLength="33" lengthAdjust="spacingAndGlyphs" stroke="#000" stroke-width="0.14">0.74080</text>
<text x="1077" y="204.8" font-size="10.17" fill="#000" text-anchor="start" textLength="33" lengthAdjust="spacingAndGlyphs" stroke="#000" stroke-width="0.14">0.73340</text>
<text x="1077" y="237.8" font-size="10.17" fill="#000" text-anchor="start" textLength="33" lengthAdjust="spacingAndGlyphs" stroke="#000" stroke-width="0.14">0.72600</text>
<text x="1077" y="270.8" font-size="10.17" fill="#000" text-anchor="start" textLength="33" lengthAdjust="spacingAndGlyphs" stroke="#000" stroke-width="0.14">0.71860</text>
<text x="1077" y="303.8" font-size="10.17" fill="#000" text-anchor="start" textLength="33" lengthAdjust="spacingAndGlyphs" stroke="#000" stroke-width="0.14">0.71120</text>
<text x="1077" y="336.8" font-size="10.17" fill="#000" text-anchor="start" textLength="33" lengthAdjust="spacingAndGlyphs" stroke="#000" stroke-width="0.14">0.70380</text>
<text x="1077" y="369.8" font-size="10.17" fill="#000" text-anchor="start" textLength="33" lengthAdjust="spacingAndGlyphs" stroke="#000" stroke-width="0.14">0.69640</text>
<text x="1077" y="402.8" font-size="10.17" fill="#000" text-anchor="start" textLength="33" lengthAdjust="spacingAndGlyphs" stroke="#000" stroke-width="0.14">0.68890</text>
<text x="1077" y="435.8" font-size="10.17" fill="#000" text-anchor="start" textLength="33" lengthAdjust="spacingAndGlyphs" stroke="#000" stroke-width="0.14">0.68160</text>
<text x="1077" y="250" font-size="10.17" fill="#fff" text-anchor="start" textLength="33" lengthAdjust="spacingAndGlyphs" stroke="#fff" stroke-width="0.14">0.72336</text>
<g shape-rendering="crispEdges">
<line x1="4" y1="461.5" x2="1071" y2="461.5" stroke="#c0c0c0" stroke-width="1" stroke-dasharray="3 3"/>
<line x1="4" y1="491.5" x2="1071" y2="491.5" stroke="#c0c0c0" stroke-width="1" stroke-dasharray="3 3"/>
<path d="M4.5 486V487M5.5 485V486M6.5 484V485M7.5 483V484M8.5 482V483M9.5 482V483M10.5 482V483M11.5 482V483M12.5 482V483M13.5 482V483M14.5 482V483M15.5 482V483M16.5 482V483M17.5 480V482M18.5 478V480M19.5 477V478M20.5 476V477M21.5 475V476M22.5 475V476M23.5 475V476M24.5 475V476M25.5 475V476M26.5 476V477M27.5 476V477M28.5 477V478M29.5 477V478M30.5 476V477M31.5 476V477M32.5 475V476M33.5 476V477M34.5 476V477M35.5 477V478M36.5 478V479M37.5 478V479M38.5 478V479M39.5 478V479M40.5 478V479M41.5 478V480M42.5 480V481M43.5 480V482M44.5 482V483M45.5 480V482M46.5 478V480M47.5 477V478M48.5 476V477M49.5 475V476M50.5 475V476M51.5 476V477M52.5 476V477M53.5 476V477M54.5 476V477M55.5 476V477M56.5 476V477M57.5 474V476M58.5 472V474M59.5 471V472M60.5 470V471M61.5 470V471M62.5 470V471M63.5 471V472M64.5 472V473M65.5 471V472M66.5 470V471M67.5 469V470M68.5 468V469M69.5 468V469M70.5 469V470M71.5 470V471M72.5 471V472M73.5 472V473M74.5 473V474M75.5 473V474M76.5 474V475M77.5 474V475M78.5 474V475M79.5 474V475M80.5 474V475M81.5 474V475M82.5 475V476M83.5 475V476M84.5 476V477M85.5 477V478M86.5 477V478M87.5 477V478M88.5 477V478M89.5 478V480M90.5 480V481M91.5 481V483M92.5 483V484M93.5 484V485M94.5 485V486M95.5 485V486M96.5 486V487M97.5 487V488M98.5 487V488M99.5 487V488M100.5 488V489M101.5 488V489M102.5 489V490M103.5 489V490M104.5 489V490M105.5 490V491M106.5 490V491M107.5 490V491M108.5 490V491M109.5 490V491M110.5 490V491M111.5 489V490M112.5 489V490M113.5 487V489M114.5 486V487M115.5 485V486M116.5 484V485M117.5 483V484M118.5 483V484M119.5 483V484M120.5 483V484M121.5 484V485M122.5 484V485M123.5 485V486M124.5 486V487M125.5 486V487M126.5 487V488M127.5 488V489M128.5 489V490M129.5 489V490M130.5 488V489M131.5 488V489M132.5 487V488M133.5 486V487M134.5 485V486M135.5 483V485M136.5 482V483M137.5 482V484M138.5 484V485M139.5 484V486M140.5 486V487M141.5 485V486M142.5 485V486M143.5 484V485M144.5 483V484M145.5 482V483M146.5 482V483M147.5 482V483M148.5 482V483M149.5 482V483M150.5 482V483M151.5 482V483M152.5 482V483M153.5 481V482M154.5 480V481M155.5 479V480M156.5 477V479M157.5 476V477M158.5 476V477M159.5 475V476M160.5 474V475M161.5 474V475M162.5 474V475M163.5 474V475M164.5 475V476M165.5 475V477M166.5 477V478M167.5 478V480M168.5 480V482M169.5 482V483M170.5 481V482M171.5 480V481M172.5 479V480M173.5 478V479M174.5 478V479M175.5 478V479M176.5 477V478M177.5 477V478M178.5 477V478M179.5 477V478M180.5 478V479M181.5 478V479M182.5 478V479M183.5 479V480M184.5 479V480M185.5 480V481M186.5 480V481M187.5 479V480M188.5 479V480M189.5 480V481M190.5 481V482M191.5 482V483M192.5 483V484M193.5 483V485M194.5 481V483M195.5 480V481M196.5 478V480M197.5 477V478M198.5 478V479M199.5 479V480M200.5 480V481M201.5 479V480M202.5 478V479M203.5 477V478M204.5 476V477M205.5 476V477M206.5 475V476M207.5 474V475M208.5 473V474M209.5 474V475M210.5 475V477M211.5 477V478M212.5 478V479M213.5 478V479M214.5 478V479M215.5 478V479M216.5 477V478M217.5 477V478M218.5 477V478M219.5 477V478M220.5 477V478M221.5 477V478M222.5 476V477M223.5 476V477M224.5 475V476M225.5 475V476M226.5 476V477M227.5 476V477M228.5 477V478M229.5 478V479M230.5 478V480M231.5 480V481M232.5 480V481M233.5 480V481M234.5 479V480M235.5 478V479M236.5 477V478M237.5 477V478M238.5 477V478M239.5 478V479M240.5 478V479M241.5 477V478M242.5 477V478M243.5 476V477M244.5 475V476M245.5 475V476M246.5 474V475M247.5 474V475M248.5 474V475M249.5 475V476M250.5 476V477M251.5 477V478M252.5 478V480M253.5 480V482M254.5 482V483M255.5 483V484M256.5 484V485M257.5 485V486M258.5 485V486M259.5 486V487M260.5 486V487M261.5 486V487M262.5 487V488M263.5 487V488M264.5 488V489M265.5 488V489M266.5 488V489M267.5 488V489M268.5 488V489M269.5 487V488M270.5 487V488M271.5 486V487M272.5 485V486M273.5 484V485M274.5 483V484M275.5 481V483M276.5 480V481M277.5 480V481M278.5 479V480M279.5 478V479M280.5 478V479M281.5 477V478M282.5 476V477M283.5 476V477M284.5 475V476M285.5 475V476M286.5 476V477M287.5 476V477M288.5 477V478M289.5 478V480M290.5 480V481M291.5 481V483M292.5 483V484M293.5 483V484M294.5 481V483M295.5 480V481M296.5 479V480M297.5 478V479M298.5 477V478M299.5 477V478M300.5 476V477M301.5 476V477M302.5 476V477M303.5 476V477M304.5 477V478M305.5 477V478M306.5 477V478M307.5 478V479M308.5 479V480M309.5 479V480M310.5 480V481M311.5 481V482M312.5 482V483M313.5 482V483M314.5 483V484M315.5 484V485M316.5 485V486M317.5 486V487M318.5 485V486M319.5 485V486M320.5 484V485M321.5 484V485M322.5 485V486M323.5 485V486M324.5 485V486M325.5 486V487M326.5 486V487M327.5 485V486M328.5 485V486M329.5 484V485M330.5 484V485M331.5 484V485M332.5 484V485M333.5 484V485M334.5 485V486M335.5 486V487M336.5 487V488M337.5 488V489M338.5 488V489M339.5 488V489M340.5 489V490M341.5 489V490M342.5 488V489M343.5 488V489M344.5 488V489M345.5 488V489M346.5 488V489M347.5 488V489M348.5 489V490M349.5 488V490M350.5 487V488M351.5 485V487M352.5 483V485M353.5 482V483M354.5 482V483M355.5 481V482M356.5 481V482M357.5 480V481M358.5 480V481M359.5 480V481M360.5 481V482M361.5 481V482M362.5 481V482M363.5 482V483M364.5 482V483M365.5 482V483M366.5 481V482M367.5 481V482M368.5 480V481M369.5 480V481M370.5 479V480M371.5 478V479M372.5 477V478M373.5 476V477M374.5 475V476M375.5 473V475M376.5 472V473M377.5 472V473M378.5 472V473M379.5 472V473M380.5 472V473M381.5 472V473M382.5 472V473M383.5 472V473M384.5 472V473M385.5 472V473M386.5 472V473M387.5 471V472M388.5 471V472M389.5 471V472M390.5 472V473M391.5 473V474M392.5 473V474M393.5 474V475M394.5 474V475M395.5 474V475M396.5 475V476M397.5 475V476M398.5 474V475M399.5 474V475M400.5 474V475M401.5 475V476M402.5 476V477M403.5 477V478M404.5 478V479M405.5 478V479M406.5 478V479M407.5 477V478M408.5 476V477M409.5 476V477M410.5 477V478M411.5 477V478M412.5 478V479M413.5 478V479M414.5 478V479M415.5 478V479M416.5 478V479M417.5 478V479M418.5 479V480M419.5 480V481M420.5 480V481M421.5 481V482M422.5 482V484M423.5 484V485M424.5 485V486M425.5 486V488M426.5 488V489M427.5 489V490M428.5 490V491M429.5 491V492M430.5 491V492M431.5 491V492M432.5 491V492M433.5 492V493M434.5 492V493M435.5 492V493M436.5 492V493M437.5 492V493M438.5 491V492M439.5 490V491M440.5 490V491M441.5 489V490M442.5 488V489M443.5 487V488M444.5 486V487M445.5 485V486M446.5 485V486M447.5 485V486M448.5 484V485M449.5 484V485M450.5 484V485M451.5 483V484M452.5 483V484M453.5 483V484M454.5 482V483M455.5 482V483M456.5 482V483M457.5 482V483M458.5 482V483M459.5 483V484M460.5 483V484M461.5 482V483M462.5 481V482M463.5 479V481M464.5 478V479M465.5 478V479M466.5 478V479M467.5 479V480M468.5 479V480M469.5 479V480M470.5 479V480M471.5 480V481M472.5 480V481M473.5 480V481M474.5 480V481M475.5 481V482M476.5 481V482M477.5 481V482M478.5 480V481M479.5 480V481M480.5 479V480M481.5 479V480M482.5 480V481M483.5 481V482M484.5 481V482M485.5 482V483M486.5 483V484M487.5 484V485M488.5 485V486M489.5 485V486M490.5 485V486M491.5 486V487M492.5 486V487M493.5 486V487M494.5 486V487M495.5 486V487M496.5 486V487M497.5 486V487M498.5 485V486M499.5 485V486M500.5 484V485M501.5 484V485M502.5 484V485M503.5 483V484M504.5 483V484M505.5 483V484M506.5 482V483M507.5 482V483M508.5 482V483M509.5 482V483M510.5 483V484M511.5 484V485M512.5 485V486M513.5 483V485M514.5 481V483M515.5 480V481M516.5 479V480M517.5 478V479M518.5 479V480M519.5 480V481M520.5 480V481M521.5 476V480M522.5 473V476M523.5 470V473M524.5 468V470M525.5 467V468M526.5 467V468M527.5 467V468M528.5 467V468M529.5 467V468M530.5 467V468M531.5 468V469M532.5 468V469M533.5 468V469M534.5 467V468M535.5 467V468M536.5 467V468M537.5 466V467M538.5 466V467M539.5 465V466M540.5 465V466M541.5 464V465M542.5 463V464M543.5 461V463M544.5 460V461M545.5 460V461M546.5 460V461M547.5 460V461M548.5 460V461M549.5 461V463M550.5 463V464M551.5 464V466M552.5 466V467M553.5 467V468M554.5 468V469M555.5 468V469M556.5 469V470M557.5 470V471M558.5 471V472M559.5 471V472M560.5 472V473M561.5 473V474M562.5 473V474M563.5 472V473M564.5 472V473M565.5 472V473M566.5 472V473M567.5 471V472M568.5 471V472M569.5 470V471M570.5 469V470M571.5 468V469M572.5 467V468M573.5 466V467M574.5 465V466M575.5 464V465M576.5 463V464M577.5 462V463M578.5 462V463M579.5 461V462M580.5 461V462M581.5 462V463M582.5 463V464M583.5 464V465M584.5 465V466M585.5 466V468M586.5 468V469M587.5 469V470M588.5 470V471M589.5 471V472M590.5 471V472M591.5 471V472M592.5 471V472M593.5 471V472M594.5 471V472M595.5 472V473M596.5 472V473M597.5 473V474M598.5 473V474M599.5 474V475M600.5 474V475M601.5 475V476M602.5 475V476M603.5 475V476M604.5 475V476M605.5 475V476M606.5 475V476M607.5 474V475M608.5 474V475M609.5 474V475M610.5 475V476M611.5 475V476M612.5 476V477M613.5 476V477M614.5 476V477M615.5 476V477M616.5 475V477M617.5 473V475M618.5 470V473M619.5 468V470M620.5 467V468M621.5 466V467M622.5 466V467M623.5 467V468M624.5 467V468M625.5 467V468M626.5 467V468M627.5 467V468M628.5 467V468M629.5 466V467M630.5 466V467M631.5 465V466M632.5 464V465M633.5 463V464M634.5 463V464M635.5 463V464M636.5 463V464M637.5 463V466M638.5 466V470M639.5 470V473M640.5 473V475M641.5 475V477M642.5 477V478M643.5 478V479M644.5 479V480M645.5 480V481M646.5 479V480M647.5 479V480M648.5 479V480M649.5 479V480M650.5 479V480M651.5 479V480M652.5 480V481M653.5 480V481M654.5 481V482M655.5 482V483M656.5 483V484M657.5 482V483M658.5 482V483M659.5 481V482M660.5 480V481M661.5 479V480M662.5 479V480M663.5 478V479M664.5 477V478M665.5 477V478M666.5 477V478M667.5 477V478M668.5 477V478M669.5 478V479M670.5 479V481M671.5 481V482M672.5 482V483M673.5 483V484M674.5 483V484M675.5 482V483M676.5 482V483M677.5 482V483M678.5 482V483M679.5 482V483M680.5 482V483M681.5 482V483M682.5 482V483M683.5 483V484M684.5 483V484M685.5 483V484M686.5 483V484M687.5 482V483M688.5 482V483M689.5 483V484M690.5 484V486M691.5 486V487M692.5 487V488M693.5 488V489M694.5 488V489M695.5 489V490M696.5 490V491M697.5 490V491M698.5 491V492M699.5 492V493M700.5 492V493M701.5 493V494M702.5 493V494M703.5 492V493M704.5 492V493M705.5 492V493M706.5 492V493M707.5 493V494M708.5 493V494M709.5 492V493M710.5 492V493M711.5 491V492M712.5 490V491M713.5 490V491M714.5 491V492M715.5 491V492M716.5 492V493M717.5 492V493M718.5 491V492M719.5 491V492M720.5 490V491M721.5 490V491M722.5 490V491M723.5 489V490M724.5 489V490M725.5 489V490M726.5 489V490M727.5 489V490M728.5 489V490M729.5 489V490M730.5 489V490M731.5 489V490M732.5 489V490M733.5 489V490M734.5 490V491M735.5 491V492M736.5 492V493M737.5 493V494M738.5 493V494M739.5 493V494M740.5 491V494M741.5 487V491M742.5 483V487M743.5 479V483M744.5 477V479M745.5 476V477M746.5 475V476M747.5 475V476M748.5 475V476M749.5 474V475M750.5 474V475M751.5 473V474M752.5 473V474M753.5 473V474M754.5 473V474M755.5 474V475M756.5 474V475M757.5 473V474M758.5 472V473M759.5 471V472M760.5 470V471M761.5 469V470M762.5 469V470M763.5 468V469M764.5 467V468M765.5 467V468M766.5 467V468M767.5 467V468M768.5 467V468M769.5 467V468M770.5 466V467M771.5 466V467M772.5 466V467M773.5 466V467M774.5 466V467M775.5 466V467M776.5 466V467M777.5 466V467M778.5 466V467M779.5 466V467M780.5 467V468M781.5 468V469M782.5 469V470M783.5 470V471M784.5 471V472M785.5 471V472M786.5 472V473M787.5 473V474M788.5 474V475M789.5 473V474M790.5 473V474M791.5 472V473M792.5 471V472M793.5 471V472M794.5 472V473M795.5 472V473M796.5 472V473M797.5 473V474M798.5 473V474M799.5 474V475M800.5 475V476M801.5 475V476M802.5 476V477M803.5 477V478M804.5 477V478M805.5 478V479M806.5 478V479M807.5 478V479M808.5 479V480M809.5 479V480M810.5 480V481M811.5 481V482M812.5 481V482M813.5 481V483M814.5 478V481M815.5 476V478M816.5 474V476M817.5 473V474M818.5 473V474M819.5 472V473M820.5 472V473M821.5 472V473M822.5 473V474M823.5 473V474M824.5 474V475M825.5 474V475M826.5 475V476M827.5 475V476M828.5 476V477M829.5 476V477M830.5 474V476M831.5 473V474M832.5 471V473M833.5 469V471M834.5 467V469M835.5 465V467M836.5 464V465M837.5 464V465M838.5 464V466M839.5 466V467M840.5 466V467M841.5 467V468M842.5 467V468M843.5 468V469M844.5 468V469M845.5 468V469M846.5 468V469M847.5 469V470" fill="none" stroke="#1e90ff" stroke-width="1"/>
</g>
<text x="8.5" y="450" font-size="10.17" fill="#000" text-anchor="start" textLength="67.5" lengthAdjust="spacingAndGlyphs" stroke="#000" stroke-width="0.14">RSI(14) 58.3436</text>
<text x="1075.5" y="447.8" font-size="10.17" fill="#000" text-anchor="start" textLength="14.6" lengthAdjust="spacingAndGlyphs" stroke="#000" stroke-width="0.14">100</text>
<text x="1074.4" y="464.6" font-size="10.17" fill="#000" text-anchor="start" textLength="9.8" lengthAdjust="spacingAndGlyphs" stroke="#000" stroke-width="0.14">70</text>
<text x="1074.4" y="494.6" font-size="10.17" fill="#000" text-anchor="start" textLength="9.8" lengthAdjust="spacingAndGlyphs" stroke="#000" stroke-width="0.14">30</text>
<text x="1075.4" y="510.6" font-size="10.17" fill="#000" text-anchor="start" textLength="4.6" lengthAdjust="spacingAndGlyphs" stroke="#000" stroke-width="0.14">0</text>
<g shape-rendering="crispEdges">
<rect x="3" y="544" width="3" height="33" fill="#c0c0c0"/>
<rect x="7" y="544" width="3" height="31" fill="#c0c0c0"/>
<rect x="11" y="544" width="3" height="30" fill="#c0c0c0"/>
<rect x="15" y="544" width="3" height="28" fill="#c0c0c0"/>
<rect x="19" y="544" width="3" height="23" fill="#c0c0c0"/>
<rect x="23" y="544" width="3" height="20" fill="#c0c0c0"/>
<rect x="27" y="544" width="3" height="17" fill="#c0c0c0"/>
<rect x="31" y="544" width="3" height="14" fill="#c0c0c0"/>
<rect x="35" y="544" width="3" height="13" fill="#c0c0c0"/>
<rect x="39" y="544" width="3" height="12" fill="#c0c0c0"/>
<rect x="43" y="544" width="3" height="12" fill="#c0c0c0"/>
<rect x="47" y="544" width="3" height="11" fill="#c0c0c0"/>
<rect x="51" y="544" width="3" height="9" fill="#c0c0c0"/>
<rect x="55" y="544" width="3" height="8" fill="#c0c0c0"/>
<rect x="59" y="544" width="3" height="3" fill="#c0c0c0"/>
<rect x="63" y="543" width="3" height="1" fill="#c0c0c0"/>
<rect x="67" y="540" width="3" height="4" fill="#c0c0c0"/>
<rect x="71" y="538" width="3" height="6" fill="#c0c0c0"/>
<rect x="75" y="538" width="3" height="6" fill="#c0c0c0"/>
<rect x="79" y="538" width="3" height="6" fill="#c0c0c0"/>
<rect x="83" y="540" width="3" height="4" fill="#c0c0c0"/>
<rect x="87" y="542" width="3" height="2" fill="#c0c0c0"/>
<rect x="91" y="544" width="3" height="3" fill="#c0c0c0"/>
<rect x="95" y="544" width="3" height="9" fill="#c0c0c0"/>
<rect x="99" y="544" width="3" height="15" fill="#c0c0c0"/>
<rect x="103" y="544" width="3" height="20" fill="#c0c0c0"/>
<rect x="107" y="544" width="3" height="26" fill="#c0c0c0"/>
<rect x="111" y="544" width="3" height="29" fill="#c0c0c0"/>
<rect x="115" y="544" width="3" height="29" fill="#c0c0c0"/>
<rect x="119" y="544" width="3" height="29" fill="#c0c0c0"/>
<rect x="123" y="544" width="3" height="30" fill="#c0c0c0"/>
<rect x="127" y="544" width="3" height="32" fill="#c0c0c0"/>
<rect x="131" y="544" width="3" height="34" fill="#c0c0c0"/>
<rect x="135" y="544" width="3" height="33" fill="#c0c0c0"/>
<rect x="139" y="544" width="3" height="34" fill="#c0c0c0"/>
<rect x="143" y="544" width="3" height="32" fill="#c0c0c0"/>
<rect x="147" y="544" width="3" height="30" fill="#c0c0c0"/>
<rect x="151" y="544" width="3" height="28" fill="#c0c0c0"/>
<rect x="155" y="544" width="3" height="26" fill="#c0c0c0"/>
<rect x="159" y="544" width="3" height="21" fill="#c0c0c0"/>
<rect x="163" y="544" width="3" height="17" fill="#c0c0c0"/>
<rect x="167" y="544" width="3" height="19" fill="#c0c0c0"/>
<rect x="171" y="544" width="3" height="17" fill="#c0c0c0"/>
<rect x="175" y="544" width="3" height="16" fill="#c0c0c0"/>
<rect x="179" y="544" width="3" height="14" fill="#c0c0c0"/>
<rect x="183" y="544" width="3" height="14" fill="#c0c0c0"/>
<rect x="187" y="544" width="3" height="14" fill="#c0c0c0"/>
<rect x="191" y="544" width="3" height="15" fill="#c0c0c0"/>
<rect x="195" y="544" width="3" height="14" fill="#c0c0c0"/>
<rect x="199" y="544" width="3" height="13" fill="#c0c0c0"/>
<rect x="203" y="544" width="3" height="11" fill="#c0c0c0"/>
<rect x="207" y="544" width="3" height="9" fill="#c0c0c0"/>
<rect x="211" y="544" width="3" height="9" fill="#c0c0c0"/>
<rect x="215" y="544" width="3" height="9" fill="#c0c0c0"/>
<rect x="219" y="544" width="3" height="9" fill="#c0c0c0"/>
<rect x="223" y="544" width="3" height="7" fill="#c0c0c0"/>
<rect x="227" y="544" width="3" height="6" fill="#c0c0c0"/>
<rect x="231" y="544" width="3" height="7" fill="#c0c0c0"/>
<rect x="235" y="544" width="3" height="7" fill="#c0c0c0"/>
<rect x="239" y="544" width="3" height="7" fill="#c0c0c0"/>
<rect x="243" y="544" width="3" height="6" fill="#c0c0c0"/>
<rect x="247" y="544" width="3" height="5" fill="#c0c0c0"/>
<rect x="251" y="544" width="3" height="6" fill="#c0c0c0"/>
<rect x="255" y="544" width="3" height="11" fill="#c0c0c0"/>
<rect x="259" y="544" width="3" height="16" fill="#c0c0c0"/>
<rect x="263" y="544" width="3" height="21" fill="#c0c0c0"/>
<rect x="267" y="544" width="3" height="24" fill="#c0c0c0"/>
<rect x="271" y="544" width="3" height="26" fill="#c0c0c0"/>
<rect x="275" y="544" width="3" height="24" fill="#c0c0c0"/>
<rect x="279" y="544" width="3" height="22" fill="#c0c0c0"/>
<rect x="283" y="544" width="3" height="17" fill="#c0c0c0"/>
<rect x="287" y="544" width="3" height="16" fill="#c0c0c0"/>
<rect x="291" y="544" width="3" height="19" fill="#c0c0c0"/>
<rect x="295" y="544" width="3" height="17" fill="#c0c0c0"/>
<rect x="299" y="544" width="3" height="14" fill="#c0c0c0"/>
<rect x="303" y="544" width="3" height="13" fill="#c0c0c0"/>
<rect x="307" y="544" width="3" height="13" fill="#c0c0c0"/>
<rect x="311" y="544" width="3" height="14" fill="#c0c0c0"/>
<rect x="315" y="544" width="3" height="20" fill="#c0c0c0"/>
<rect x="319" y="544" width="3" height="22" fill="#c0c0c0"/>
<rect x="323" y="544" width="3" height="26" fill="#c0c0c0"/>
<rect x="327" y="544" width="3" height="27" fill="#c0c0c0"/>
<rect x="331" y="544" width="3" height="28" fill="#c0c0c0"/>
<rect x="335" y="544" width="3" height="31" fill="#c0c0c0"/>
<rect x="339" y="544" width="3" height="35" fill="#c0c0c0"/>
<rect x="343" y="544" width="3" height="37" fill="#c0c0c0"/>
<rect x="347" y="544" width="3" height="38" fill="#c0c0c0"/>
<rect x="351" y="544" width="3" height="37" fill="#c0c0c0"/>
<rect x="355" y="544" width="3" height="34" fill="#c0c0c0"/>
<rect x="359" y="544" width="3" height="31" fill="#c0c0c0"/>
<rect x="363" y="544" width="3" height="30" fill="#c0c0c0"/>
<rect x="367" y="544" width="3" height="27" fill="#c0c0c0"/>
<rect x="371" y="544" width="3" height="24" fill="#c0c0c0"/>
<rect x="375" y="544" width="3" height="18" fill="#c0c0c0"/>
<rect x="379" y="544" width="3" height="13" fill="#c0c0c0"/>
<rect x="383" y="544" width="3" height="8" fill="#c0c0c0"/>
<rect x="387" y="544" width="3" height="4" fill="#c0c0c0"/>
<rect x="391" y="544" width="3" height="3" fill="#c0c0c0"/>
<rect x="395" y="544" width="3" height="2" fill="#c0c0c0"/>
<rect x="399" y="544" width="3" height="2" fill="#c0c0c0"/>
<rect x="403" y="544" width="3" height="2" fill="#c0c0c0"/>
<rect x="407" y="544" width="3" height="2" fill="#c0c0c0"/>
<rect x="411" y="544" width="3" height="2" fill="#c0c0c0"/>
<rect x="415" y="544" width="3" height="3" fill="#c0c0c0"/>
<rect x="419" y="544" width="3" height="4" fill="#c0c0c0"/>
<rect x="423" y="544" width="3" height="9" fill="#c0c0c0"/>
<rect x="427" y="544" width="3" height="15" fill="#c0c0c0"/>
<rect x="431" y="544" width="3" height="20" fill="#c0c0c0"/>
<rect x="435" y="544" width="3" height="25" fill="#c0c0c0"/>
<rect x="439" y="544" width="3" height="27" fill="#c0c0c0"/>
<rect x="443" y="544" width="3" height="28" fill="#c0c0c0"/>
<rect x="447" y="544" width="3" height="27" fill="#c0c0c0"/>
<rect x="451" y="544" width="3" height="26" fill="#c0c0c0"/>
<rect x="455" y="544" width="3" height="24" fill="#c0c0c0"/>
<rect x="459" y="544" width="3" height="22" fill="#c0c0c0"/>
<rect x="463" y="544" width="3" height="20" fill="#c0c0c0"/>
<rect x="467" y="544" width="3" height="19" fill="#c0c0c0"/>
<rect x="471" y="544" width="3" height="18" fill="#c0c0c0"/>
<rect x="475" y="544" width="3" height="16" fill="#c0c0c0"/>
<rect x="479" y="544" width="3" height="15" fill="#c0c0c0"/>
<rect x="483" y="544" width="3" height="14" fill="#c0c0c0"/>
<rect x="487" y="544" width="3" height="14" fill="#c0c0c0"/>
<rect x="491" y="544" width="3" height="15" fill="#c0c0c0"/>
<rect x="495" y="544" width="3" height="16" fill="#c0c0c0"/>
<rect x="499" y="544" width="3" height="16" fill="#c0c0c0"/>
<rect x="503" y="544" width="3" height="16" fill="#c0c0c0"/>
<rect x="507" y="544" width="3" height="16" fill="#c0c0c0"/>
<rect x="511" y="544" width="3" height="15" fill="#c0c0c0"/>
<rect x="515" y="544" width="3" height="14" fill="#c0c0c0"/>
<rect x="519" y="544" width="3" height="14" fill="#c0c0c0"/>
<rect x="523" y="544" width="3" height="8" fill="#c0c0c0"/>
<rect x="527" y="544" width="3" height="4" fill="#c0c0c0"/>
<rect x="531" y="544" width="3" height="1" fill="#c0c0c0"/>
<rect x="535" y="540" width="3" height="4" fill="#c0c0c0"/>
<rect x="539" y="537" width="3" height="7" fill="#c0c0c0"/>
<rect x="543" y="531" width="3" height="13" fill="#c0c0c0"/>
<rect x="547" y="527" width="3" height="17" fill="#c0c0c0"/>
<rect x="551" y="526" width="3" height="18" fill="#c0c0c0"/>
<rect x="555" y="526" width="3" height="18" fill="#c0c0c0"/>
<rect x="559" y="528" width="3" height="16" fill="#c0c0c0"/>
<rect x="563" y="529" width="3" height="15" fill="#c0c0c0"/>
<rect x="567" y="530" width="3" height="14" fill="#c0c0c0"/>
<rect x="571" y="528" width="3" height="16" fill="#c0c0c0"/>
<rect x="575" y="525" width="3" height="19" fill="#c0c0c0"/>
<rect x="579" y="521" width="3" height="23" fill="#c0c0c0"/>
<rect x="583" y="521" width="3" height="23" fill="#c0c0c0"/>
<rect x="587" y="522" width="3" height="22" fill="#c0c0c0"/>
<rect x="591" y="523" width="3" height="21" fill="#c0c0c0"/>
<rect x="595" y="525" width="3" height="19" fill="#c0c0c0"/>
<rect x="599" y="528" width="3" height="16" fill="#c0c0c0"/>
<rect x="603" y="530" width="3" height="14" fill="#c0c0c0"/>
<rect x="607" y="532" width="3" height="12" fill="#c0c0c0"/>
<rect x="611" y="534" width="3" height="10" fill="#c0c0c0"/>
<rect x="615" y="536" width="3" height="8" fill="#c0c0c0"/>
<rect x="619" y="533" width="3" height="11" fill="#c0c0c0"/>
<rect x="623" y="530" width="3" height="14" fill="#c0c0c0"/>
<rect x="627" y="530" width="3" height="14" fill="#c0c0c0"/>
<rect x="631" y="527" width="3" height="17" fill="#c0c0c0"/>
<rect x="635" y="525" width="3" height="19" fill="#c0c0c0"/>
<rect x="639" y="527" width="3" height="17" fill="#c0c0c0"/>
<rect x="643" y="532" width="3" height="12" fill="#c0c0c0"/>
<rect x="647" y="536" width="3" height="8" fill="#c0c0c0"/>
<rect x="651" y="539" width="3" height="5" fill="#c0c0c0"/>
<rect x="655" y="543" width="3" height="1" fill="#c0c0c0"/>
<rect x="659" y="544" width="3" height="2" fill="#c0c0c0"/>
<rect x="663" y="544" width="3" height="2" fill="#c0c0c0"/>
<rect x="667" y="544" width="3" height="3" fill="#c0c0c0"/>
<rect x="671" y="544" width="3" height="6" fill="#c0c0c0"/>
<rect x="675" y="544" width="3" height="8" fill="#c0c0c0"/>
<rect x="679" y="544" width="3" height="8" fill="#c0c0c0"/>
<rect x="683" y="544" width="3" height="9" fill="#c0c0c0"/>
<rect x="687" y="544" width="3" height="10" fill="#c0c0c0"/>
<rect x="691" y="544" width="3" height="15" fill="#c0c0c0"/>
<rect x="695" y="544" width="3" height="19" fill="#c0c0c0"/>
<rect x="699" y="544" width="3" height="23" fill="#c0c0c0"/>
<rect x="703" y="544" width="3" height="27" fill="#c0c0c0"/>
<rect x="707" y="544" width="3" height="28" fill="#c0c0c0"/>
<rect x="711" y="544" width="3" height="30" fill="#c0c0c0"/>
<rect x="715" y="544" width="3" height="32" fill="#c0c0c0"/>
<rect x="719" y="544" width="3" height="33" fill="#c0c0c0"/>
<rect x="723" y="544" width="3" height="32" fill="#c0c0c0"/>
<rect x="727" y="544" width="3" height="32" fill="#c0c0c0"/>
<rect x="731" y="544" width="3" height="31" fill="#c0c0c0"/>
<rect x="735" y="544" width="3" height="33" fill="#c0c0c0"/>
<rect x="739" y="544" width="3" height="31" fill="#c0c0c0"/>
<rect x="743" y="544" width="3" height="28" fill="#c0c0c0"/>
<rect x="747" y="544" width="3" height="24" fill="#c0c0c0"/>
<rect x="751" y="544" width="3" height="19" fill="#c0c0c0"/>
<rect x="755" y="544" width="3" height="15" fill="#c0c0c0"/>
<rect x="759" y="544" width="3" height="10" fill="#c0c0c0"/>
<rect x="763" y="544" width="3" height="5" fill="#c0c0c0"/>
<rect x="767" y="544" width="3" height="1" fill="#c0c0c0"/>
<rect x="771" y="540" width="3" height="4" fill="#c0c0c0"/>
<rect x="775" y="538" width="3" height="6" fill="#c0c0c0"/>
<rect x="779" y="535" width="3" height="9" fill="#c0c0c0"/>
<rect x="783" y="535" width="3" height="9" fill="#c0c0c0"/>
<rect x="787" y="535" width="3" height="9" fill="#c0c0c0"/>
<rect x="791" y="535" width="3" height="9" fill="#c0c0c0"/>
<rect x="795" y="536" width="3" height="8" fill="#c0c0c0"/>
<rect x="799" y="538" width="3" height="6" fill="#c0c0c0"/>
<rect x="803" y="538" width="3" height="6" fill="#c0c0c0"/>
<rect x="807" y="540" width="3" height="4" fill="#c0c0c0"/>
<rect x="811" y="543" width="3" height="1" fill="#c0c0c0"/>
<rect x="815" y="542" width="3" height="2" fill="#c0c0c0"/>
<rect x="819" y="541" width="3" height="3" fill="#c0c0c0"/>
<rect x="823" y="540" width="3" height="4" fill="#c0c0c0"/>
<rect x="827" y="540" width="3" height="4" fill="#c0c0c0"/>
<rect x="831" y="540" width="3" height="4" fill="#c0c0c0"/>
<rect x="835" y="534" width="3" height="10" fill="#c0c0c0"/>
<rect x="839" y="531" width="3" height="13" fill="#c0c0c0"/>
<rect x="843" y="529" width="3" height="15" fill="#c0c0c0"/>
<rect x="847" y="529" width="3" height="15" fill="#c0c0c0"/>
<path d="M4.5 580V581M5.5 580V581M6.5 580V581M7.5 579V580M8.5 579V580M9.5 579V580M10.5 579V580M11.5 579V580M12.5 579V580M13.5 578V579M14.5 578V579M15.5 578V579M16.5 577V578M17.5 576V577M18.5 576V577M19.5 575V576M20.5 575V576M21.5 574V575M22.5 573V574M23.5 573V574M24.5 572V573M25.5 572V573M26.5 571V572M27.5 570V571M28.5 570V571M29.5 570V571M30.5 569V570M31.5 568V569M32.5 568V569M33.5 568V569M34.5 567V568M35.5 566V567M36.5 566V567M37.5 565V566M38.5 564V565M39.5 564V565M40.5 563V564M41.5 562V563M42.5 562V563M43.5 562V563M44.5 561V562M45.5 560V561M46.5 560V561M47.5 560V561M48.5 559V560M49.5 558V559M50.5 558V559M51.5 558V559M52.5 557V558M53.5 556V557M54.5 556V557M55.5 556V557M56.5 555V556M57.5 554V555M58.5 554V555M59.5 554V555M60.5 553V554M61.5 552V553M62.5 552V553M63.5 552V553M64.5 551V552M65.5 550V551M66.5 550V551M67.5 550V551M68.5 549V550M69.5 548V549M70.5 548V549M71.5 548V549M72.5 547V548M73.5 546V547M74.5 546V547M75.5 546V547M76.5 545V546M77.5 545V546M78.5 544V545M79.5 544V545M80.5 544V545M81.5 543V544M82.5 543V544M83.5 543V544M84.5 542V543M85.5 542V543M86.5 542V543M87.5 541V542M88.5 541V542M89.5 541V542M90.5 541V542M91.5 541V542M92.5 541V542M93.5 541V542M94.5 541V542M95.5 541V542M96.5 541V542M97.5 541V542M98.5 542V543M99.5 542V543M100.5 543V544M101.5 544V545M102.5 544V546M103.5 546V547M104.5 546V548M105.5 548V549M106.5 548V550M107.5 550V551M108.5 550V552M109.5 552V553M110.5 552V554M111.5 554V555M112.5 554V556M113.5 556V557M114.5 556V557M115.5 557V558M116.5 558V559M117.5 559V560M118.5 560V561M119.5 561V562M120.5 562V563M121.5 562V563M122.5 563V564M123.5 564V565M124.5 564V565M125.5 565V566M126.5 566V567M127.5 567V568M128.5 568V569M129.5 568V569M130.5 569V570M131.5 569V570M132.5 570V571M133.5 570V571M134.5 571V572M135.5 571V572M136.5 572V573M137.5 572V573M138.5 573V574M139.5 573V574M140.5 574V575M141.5 574V575M142.5 574V575M143.5 575V576M144.5 575V576M145.5 575V576M146.5 575V576M147.5 575V576M148.5 575V576M149.5 575V576M150.5 575V576M151.5 575V576M152.5 575V576M153.5 575V576M154.5 574V575M155.5 574V575M156.5 574V575M157.5 574V575M158.5 574V575M159.5 573V574M160.5 573V574M161.5 573V574M162.5 572V573M163.5 572V573M164.5 571V572M165.5 571V572M166.5 570V571M167.5 570V571M168.5 570V571M169.5 569V570M170.5 568V569M171.5 568V569M172.5 568V569M173.5 567V568M174.5 566V567M175.5 566V567M176.5 566V567M177.5 565V566M178.5 565V566M179.5 564V565M180.5 564V565M181.5 563V564M182.5 563V564M183.5 562V563M184.5 562V563M185.5 562V563M186.5 561V562M187.5 561V562M188.5 560V561M189.5 560V561M190.5 560V561M191.5 559V560M192.5 559V560M193.5 559V560M194.5 559V560M195.5 559V560M196.5 558V559M197.5 558V559M198.5 558V559M199.5 558V559M200.5 558V559M201.5 558V559M202.5 558V559M203.5 557V558M204.5 557V558M205.5 557V558M206.5 557V558M207.5 557V558M208.5 556V557M209.5 556V557M210.5 556V557M211.5 556V557M212.5 556V557M213.5 556V557M214.5 555V556M215.5 555V556M216.5 555V556M217.5 555V556M218.5 555V556M219.5 555V556M220.5 554V555M221.5 554V555M222.5 554V555M223.5 554V555M224.5 554V555M225.5 553V554M226.5 553V554M227.5 553V554M228.5 553V554M229.5 552V553M230.5 552V553M231.5 552V553M232.5 552V553M233.5 551V552M234.5 551V552M235.5 551V552M236.5 551V552M237.5 551V552M238.5 551V552M239.5 551V552M240.5 550V551M241.5 550V551M242.5 550V551M243.5 550V551M244.5 550V551M245.5 550V551M246.5 550V551M247.5 550V551M248.5 550V551M249.5 550V551M250.5 550V551M251.5 550V551M252.5 550V551M253.5 550V551M254.5 550V551M255.5 550V551M256.5 550V551M257.5 550V551M258.5 550V551M259.5 551V552M260.5 551V552M261.5 552V553M262.5 552V553M263.5 553V554M264.5 553V554M265.5 554V555M266.5 554V555M267.5 554V555M268.5 555V556M269.5 555V556M270.5 556V557M271.5 556V557M272.5 556V557M273.5 557V558M274.5 557V558M275.5 558V559M276.5 558V559M277.5 558V559M278.5 559V560M279.5 559V560M280.5 560V561M281.5 560V561M282.5 560V561M283.5 561V562M284.5 561V562M285.5 562V563M286.5 562V563M287.5 562V563M288.5 563V564M289.5 563V564M290.5 563V564M291.5 563V564M292.5 563V564M293.5 564V565M294.5 564V565M295.5 564V565M296.5 564V565M297.5 564V565M298.5 563V564M299.5 563V564M300.5 563V564M301.5 563V564M302.5 562V563M303.5 562V563M304.5 562V563M305.5 561V562M306.5 561V562M307.5 560V561M308.5 560V561M309.5 560V561M310.5 559V560M311.5 559V560M312.5 559V560M313.5 559V560M314.5 559V560M315.5 559V560M316.5 559V560M317.5 559V560M318.5 559V560M319.5 559V560M320.5 560V561M321.5 560V561M322.5 560V561M323.5 560V561M324.5 561V562M325.5 561V562M326.5 561V562M327.5 561V562M328.5 562V563M329.5 562V563M330.5 562V563M331.5 563V564M332.5 563V564M333.5 563V564M334.5 564V565M335.5 564V565M336.5 565V566M337.5 565V566M338.5 566V567M339.5 566V567M340.5 567V568M341.5 567V568M342.5 568V569M343.5 568V569M344.5 569V570M345.5 570V571M346.5 570V571M347.5 571V572M348.5 571V572M349.5 572V573M350.5 572V573M351.5 573V574M352.5 573V574M353.5 574V575M354.5 574V575M355.5 575V576M356.5 575V576M357.5 576V577M358.5 576V577M359.5 576V577M360.5 576V577M361.5 576V577M362.5 576V577M363.5 576V577M364.5 576V577M365.5 576V577M366.5 576V577M367.5 576V577M368.5 576V577M369.5 576V577M370.5 575V576M371.5 575V576M372.5 575V576M373.5 575V576M374.5 574V575M375.5 574V575M376.5 574V575M377.5 573V574M378.5 573V574M379.5 572V573M380.5 571V572M381.5 571V572M382.5 570V571M383.5 569V570M384.5 568V569M385.5 568V569M386.5 567V568M387.5 566V567M388.5 565V566M389.5 564V565M390.5 563V564M391.5 562V563M392.5 562V563M393.5 561V562M394.5 560V561M395.5 559V560M396.5 558V559M397.5 557V558M398.5 556V557M399.5 555V556M400.5 554V555M401.5 554V555M402.5 553V554M403.5 552V553M404.5 552V553M405.5 551V552M406.5 550V551M407.5 550V551M408.5 549V550M409.5 549V550M410.5 548V549M411.5 548V549M412.5 548V549M413.5 547V548M414.5 547V548M415.5 547V548M416.5 546V547M417.5 546V547M418.5 546V547M419.5 546V547M420.5 546V547M421.5 546V547M422.5 546V547M423.5 546V547M424.5 546V547M425.5 547V548M426.5 547V548M427.5 547V548M428.5 548V549M429.5 548V549M430.5 549V550M431.5 549V550M432.5 550V551M433.5 551V552M434.5 551V552M435.5 552V553M436.5 552V553M437.5 553V554M438.5 554V555M439.5 554V555M440.5 555V556M441.5 555V556M442.5 556V557M443.5 556V558M444.5 558V559M445.5 558V560M446.5 560V561M447.5 560V562M448.5 562V563M449.5 562V563M450.5 562V563M451.5 563V564M452.5 563V564M453.5 564V565M454.5 564V565M455.5 565V566M456.5 565V566M457.5 565V566M458.5 566V567M459.5 566V567M460.5 566V567M461.5 567V568M462.5 567V568M463.5 568V569M464.5 568V569M465.5 568V569M466.5 568V569M467.5 567V568M468.5 567V568M469.5 567V568M470.5 567V568M471.5 567V568M472.5 566V567M473.5 566V567M474.5 566V567M475.5 565V566M476.5 565V566M477.5 565V566M478.5 564V565M479.5 564V565M480.5 564V565M481.5 563V564M482.5 563V564M483.5 563V564M484.5 562V563M485.5 562V563M486.5 562V563M487.5 561V562M488.5 561V562M489.5 561V562M490.5 561V562M491.5 561V562M492.5 560V561M493.5 560V561M494.5 560V561M495.5 560V561M496.5 560V561M497.5 560V561M498.5 559V560M499.5 559V560M500.5 559V560M501.5 559V560M502.5 559V560M503.5 559V560M504.5 559V560M505.5 559V560M506.5 559V560M507.5 559V560M508.5 559V560M509.5 559V560M510.5 559V560M511.5 559V560M512.5 559V560M513.5 559V560M514.5 559V560M515.5 559V560M516.5 559V560M517.5 559V560M518.5 559V560M519.5 559V560M520.5 559V560M521.5 559V560M522.5 559V560M523.5 559V560M524.5 558V559M525.5 558V559M526.5 557V558M527.5 557V558M528.5 557V558M529.5 556V557M530.5 556V557M531.5 555V556M532.5 555V556M533.5 554V555M534.5 554V555M535.5 553V554M536.5 553V554M537.5 552V553M538.5 552V553M539.5 551V552M540.5 550V551M541.5 550V551M542.5 549V550M543.5 548V549M544.5 548V549M545.5 547V548M546.5 546V547M547.5 545V546M548.5 544V545M549.5 543V544M550.5 542V543M551.5 541V542M552.5 540V541M553.5 539V540M554.5 538V539M555.5 537V538M556.5 536V537M557.5 535V536M558.5 535V536M559.5 534V535M560.5 534V535M561.5 533V534M562.5 533V534M563.5 532V533M564.5 532V533M565.5 531V532M566.5 531V532M567.5 530V531M568.5 530V531M569.5 530V531M570.5 529V530M571.5 529V530M572.5 528V529M573.5 528V529M574.5 528V529M575.5 528V529M576.5 527V528M577.5 527V528M578.5 527V528M579.5 526V527M580.5 526V527M581.5 526V527M582.5 526V527M583.5 526V527M584.5 525V526M585.5 525V526M586.5 525V526M587.5 525V526M588.5 525V526M589.5 525V526M590.5 525V526M591.5 525V526M592.5 525V526M593.5 525V526M594.5 525V526M595.5 525V526M596.5 525V526M597.5 525V526M598.5 525V526M599.5 525V526M600.5 525V526M601.5 525V526M602.5 525V526M603.5 525V526M604.5 525V526M605.5 525V526M606.5 525V526M607.5 525V526M608.5 525V526M609.5 525V526M610.5 525V526M611.5 525V526M612.5 526V527M613.5 526V527M614.5 526V527M615.5 527V528M616.5 527V528M617.5 528V529M618.5 528V529M619.5 528V529M620.5 528V529M621.5 529V530M622.5 529V530M623.5 529V530M624.5 530V531M625.5 530V531M626.5 530V531M627.5 531V532M628.5 531V532M629.5 531V532M630.5 531V532M631.5 531V532M632.5 531V532M633.5 531V532M634.5 531V532M635.5 531V532M636.5 531V532M637.5 531V532M638.5 531V532M639.5 531V532M640.5 531V532M641.5 531V532M642.5 531V532M643.5 531V532M644.5 531V532M645.5 531V532M646.5 530V531M647.5 531V532M648.5 531V532M649.5 531V532M650.5 531V532M651.5 531V532M652.5 531V532M653.5 531V532M654.5 532V533M655.5 532V533M656.5 532V533M657.5 532V533M658.5 533V534M659.5 533V534M660.5 534V535M661.5 534V535M662.5 534V535M663.5 535V536M664.5 536V537M665.5 536V537M666.5 536V537M667.5 537V538M668.5 538V539M669.5 538V539M670.5 539V540M671.5 540V541M672.5 540V541M673.5 541V542M674.5 542V543M675.5 542V543M676.5 543V544M677.5 544V545M678.5 544V545M679.5 545V546M680.5 545V546M681.5 546V547M682.5 546V547M683.5 547V548M684.5 547V548M685.5 547V548M686.5 548V549M687.5 548V549M688.5 548V549M689.5 549V550M690.5 549V550M691.5 549V550M692.5 550V551M693.5 550V551M694.5 550V551M695.5 551V552M696.5 552V553M697.5 553V554M698.5 553V554M699.5 554V555M700.5 555V556M701.5 555V556M702.5 556V557M703.5 557V558M704.5 557V558M705.5 558V559M706.5 558V559M707.5 559V560M708.5 560V561M709.5 560V561M710.5 561V562M711.5 562V563M712.5 562V563M713.5 563V564M714.5 564V565M715.5 564V565M716.5 565V566M717.5 566V567M718.5 566V567M719.5 567V568M720.5 568V569M721.5 568V569M722.5 569V570M723.5 569V570M724.5 570V571M725.5 570V571M726.5 571V572M727.5 571V572M728.5 572V573M729.5 572V573M730.5 572V573M731.5 573V574M732.5 573V574M733.5 573V574M734.5 574V575M735.5 574V575M736.5 574V575M737.5 574V575M738.5 574V575M739.5 574V575M740.5 575V576M741.5 575V576M742.5 575V576M743.5 575V576M744.5 575V576M745.5 574V575M746.5 574V575M747.5 574V575M748.5 574V575M749.5 573V574M750.5 573V574M751.5 573V574M752.5 572V573M753.5 572V573M754.5 572V573M755.5 571V572M756.5 571V572M757.5 571V572M758.5 570V571M759.5 570V571M760.5 569V570M761.5 568V569M762.5 568V569M763.5 567V568M764.5 566V567M765.5 566V567M766.5 565V566M767.5 564V565M768.5 563V564M769.5 562V563M770.5 561V562M771.5 560V561M772.5 559V560M773.5 557V559M774.5 556V557M775.5 555V557M776.5 554V555M777.5 553V555M778.5 552V553M779.5 551V553M780.5 550V551M781.5 549V551M782.5 548V549M783.5 548V549M784.5 547V548M785.5 546V547M786.5 545V546M787.5 544V545M788.5 544V545M789.5 543V544M790.5 542V543M791.5 541V542M792.5 541V542M793.5 540V541M794.5 540V541M795.5 539V540M796.5 539V540M797.5 538V539M798.5 538V539M799.5 537V538M800.5 537V538M801.5 537V538M802.5 537V538M803.5 536V537M804.5 536V537M805.5 536V537M806.5 536V537M807.5 536V537M808.5 536V537M809.5 536V537M810.5 536V537M811.5 536V537M812.5 536V537M813.5 537V538M814.5 537V538M815.5 537V538M816.5 538V539M817.5 538V539M818.5 538V539M819.5 538V539M820.5 538V539M821.5 539V540M822.5 539V540M823.5 539V540M824.5 539V540M825.5 539V540M826.5 539V540M827.5 539V540M828.5 540V541M829.5 540V541M830.5 540V541M831.5 540V541M832.5 540V541M833.5 540V541M834.5 540V541M835.5 540V541M836.5 540V541M837.5 539V540M838.5 539V540M839.5 539V540M840.5 539V540M841.5 538V539M842.5 538V539M843.5 538V539M844.5 538V539M845.5 537V538M846.5 537V538M847.5 537V538M848.5 536V537" fill="none" stroke="#ff0000" stroke-width="1"/>
</g>
<text x="8" y="529" font-size="10.17" fill="#000" text-anchor="start" textLength="147" lengthAdjust="spacingAndGlyphs" stroke="#000" stroke-width="0.14">MACD(12,26,9) 0.002617 0.001347</text>
<text x="1075.5" y="526.6" font-size="10.17" fill="#000" text-anchor="start" textLength="36.6" lengthAdjust="spacingAndGlyphs" stroke="#000" stroke-width="0.14">0.004561</text>
<text x="1075.5" y="548" font-size="10.17" fill="#000" text-anchor="start" textLength="17.4" lengthAdjust="spacingAndGlyphs" stroke="#000" stroke-width="0.14">0.00</text>
<text x="1075.2" y="581.6" font-size="10.17" fill="#000" text-anchor="start" textLength="39.6" lengthAdjust="spacingAndGlyphs" stroke="#000" stroke-width="0.14">-0.006819</text>
<g shape-rendering="crispEdges">
<rect x="4" y="586" width="1" height="3" fill="#000"/>
<rect x="68" y="586" width="1" height="3" fill="#000"/>
<rect x="132" y="586" width="1" height="3" fill="#000"/>
<rect x="196" y="586" width="1" height="3" fill="#000"/>
<rect x="260" y="586" width="1" height="3" fill="#000"/>
<rect x="324" y="586" width="1" height="3" fill="#000"/>
<rect x="388" y="586" width="1" height="3" fill="#000"/>
<rect x="452" y="586" width="1" height="3" fill="#000"/>
<rect x="516" y="586" width="1" height="3" fill="#000"/>
<rect x="580" y="586" width="1" height="3" fill="#000"/>
<rect x="644" y="586" width="1" height="3" fill="#000"/>
<rect x="708" y="586" width="1" height="3" fill="#000"/>
<rect x="772" y="586" width="1" height="3" fill="#000"/>
<rect x="836" y="586" width="1" height="3" fill="#000"/>
</g>
<text x="3.2" y="598.3" font-size="10.17" fill="#000" text-anchor="start" textLength="54.6" lengthAdjust="spacingAndGlyphs" stroke="#000" stroke-width="0.14">15 May 2018</text>
<text x="67.2" y="598.3" font-size="10.17" fill="#000" text-anchor="start" textLength="45.8" lengthAdjust="spacingAndGlyphs" stroke="#000" stroke-width="0.14">6 Jun 2018</text>
<text x="131.2" y="598.3" font-size="10.17" fill="#000" text-anchor="start" textLength="50.9" lengthAdjust="spacingAndGlyphs" stroke="#000" stroke-width="0.14">28 Jun 2018</text>
<text x="195.2" y="598.3" font-size="10.17" fill="#000" text-anchor="start" textLength="47.8" lengthAdjust="spacingAndGlyphs" stroke="#000" stroke-width="0.14">20 Jul 2018</text>
<text x="259.2" y="598.3" font-size="10.17" fill="#000" text-anchor="start" textLength="52.0" lengthAdjust="spacingAndGlyphs" stroke="#000" stroke-width="0.14">13 Aug 2018</text>
<text x="323.2" y="598.3" font-size="10.17" fill="#000" text-anchor="start" textLength="47.3" lengthAdjust="spacingAndGlyphs" stroke="#000" stroke-width="0.14">4 Sep 2018</text>
<text x="387.2" y="598.3" font-size="10.17" fill="#000" text-anchor="start" textLength="52.5" lengthAdjust="spacingAndGlyphs" stroke="#000" stroke-width="0.14">22 Sep 2018</text>
<text x="451.2" y="598.3" font-size="10.17" fill="#000" text-anchor="start" textLength="49.7" lengthAdjust="spacingAndGlyphs" stroke="#000" stroke-width="0.14">11 Oct 2018</text>
<text x="515.2" y="598.3" font-size="10.17" fill="#000" text-anchor="start" textLength="50.4" lengthAdjust="spacingAndGlyphs" stroke="#000" stroke-width="0.14">30 Oct 2018</text>
<text x="579.2" y="598.3" font-size="10.17" fill="#000" text-anchor="start" textLength="52.5" lengthAdjust="spacingAndGlyphs" stroke="#000" stroke-width="0.14">17 Nov 2018</text>
<text x="643.2" y="598.3" font-size="10.17" fill="#000" text-anchor="start" textLength="47.3" lengthAdjust="spacingAndGlyphs" stroke="#000" stroke-width="0.14">6 Dec 2018</text>
<text x="707.2" y="598.3" font-size="10.17" fill="#000" text-anchor="start" textLength="52.5" lengthAdjust="spacingAndGlyphs" stroke="#000" stroke-width="0.14">25 Dec 2018</text>
<text x="771.2" y="598.3" font-size="10.17" fill="#000" text-anchor="start" textLength="50.9" lengthAdjust="spacingAndGlyphs" stroke="#000" stroke-width="0.14">12 Jan 2019</text>
<text x="835.2" y="598.3" font-size="10.17" fill="#000" text-anchor="start" textLength="50.9" lengthAdjust="spacingAndGlyphs" stroke="#000" stroke-width="0.14">31 Jan 2019</text>
<g shape-rendering="crispEdges">
<rect x="0" y="606" width="1116" height="26" fill="#f0f0f0"/>
<rect x="110" y="607" width="102" height="19" fill="#fff"/>
<rect x="0" y="608" width="110" height="1" fill="#000"/>
<rect x="109" y="608" width="1" height="19" fill="#000"/>
<rect x="109" y="626" width="104" height="1" fill="#000"/>
<rect x="212" y="608" width="1" height="19" fill="#000"/>
<rect x="212" y="608" width="904" height="1" fill="#000"/>
<rect x="0" y="606" width="1" height="22" fill="#888"/>
<rect x="1" y="609" width="1" height="19" fill="#fff"/>
<rect x="301" y="611" width="1" height="14" fill="#707070"/>
<rect x="393" y="611" width="1" height="14" fill="#707070"/>
<rect x="497" y="611" width="1" height="14" fill="#707070"/>
<rect x="585" y="611" width="1" height="14" fill="#707070"/>
<rect x="677" y="611" width="1" height="14" fill="#707070"/>
<rect x="0" y="632" width="1116" height="1" fill="#a0a0a0"/>
<rect x="0" y="633" width="1116" height="3" fill="#f0f0f0"/>
<rect x="15" y="633" width="1" height="3" fill="#fdfdfd"/>
<rect x="99" y="633" width="1" height="3" fill="#fdfdfd"/>
<rect x="207" y="633" width="1" height="3" fill="#fdfdfd"/>
<rect x="327" y="633" width="1" height="3" fill="#fdfdfd"/>
<rect x="448" y="633" width="1" height="3" fill="#fdfdfd"/>
<rect x="568" y="633" width="1" height="3" fill="#fdfdfd"/>
<rect x="688" y="633" width="1" height="3" fill="#fdfdfd"/>
<rect x="808" y="633" width="1" height="3" fill="#fdfdfd"/>
<rect x="927" y="633" width="1" height="3" fill="#fdfdfd"/>
</g>
<path d="M1090.3 613.8 L1090.3 620.2 L1086.8 617 Z" fill="#6c6c6c"/>
<path d="M1105.7 613.8 L1105.7 620.2 L1109.2 617 Z" fill="#6c6c6c"/>
<text x="17.5" y="622.8" font-size="12.8" fill="#6a6a6a" text-anchor="start" textLength="79.2" lengthAdjust="spacingAndGlyphs">EURUSD,Daily</text>
<text x="120.5" y="622.8" font-size="12.8" fill="#000" text-anchor="start" textLength="81.5" lengthAdjust="spacingAndGlyphs">AUDUSD,Daily</text>
<text x="223.3" y="622.8" font-size="12.8" fill="#6a6a6a" text-anchor="start" textLength="66.4" lengthAdjust="spacingAndGlyphs">USDCHF,H1</text>
<text x="312.6" y="622.8" font-size="12.8" fill="#6a6a6a" text-anchor="start" textLength="68.1" lengthAdjust="spacingAndGlyphs">USDCAD,H4</text>
<text x="403.5" y="622.8" font-size="12.8" fill="#6a6a6a" text-anchor="start" textLength="82.6" lengthAdjust="spacingAndGlyphs">USDCNH,Daily</text>
<text x="507.6" y="622.8" font-size="12.8" fill="#6a6a6a" text-anchor="start" textLength="66.5" lengthAdjust="spacingAndGlyphs">EURGBP,H1</text>
<text x="596.5" y="622.8" font-size="12.8" fill="#6a6a6a" text-anchor="start" textLength="68.8" lengthAdjust="spacingAndGlyphs">NZDUSD,H1</text>
</svg></body></html>
